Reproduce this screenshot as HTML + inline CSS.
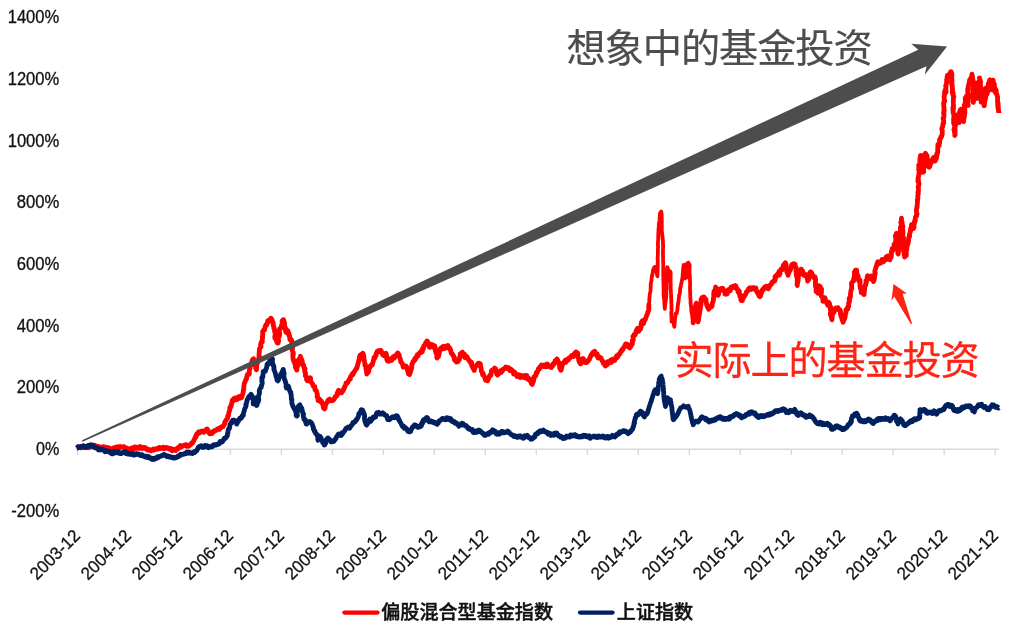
<!DOCTYPE html>
<html lang="zh-CN">
<head>
<meta charset="utf-8">
<title>基金投资</title>
<style>
html,body{margin:0;padding:0;background:#fff;}
body{width:1027px;height:634px;overflow:hidden;}
svg{display:block;}
</style>
</head>
<body>
<svg width="1027" height="634" viewBox="0 0 1027 634">
<rect width="1027" height="634" fill="#fff"/>
<g stroke="#d9d9d9" stroke-width="1.4" fill="none">
<path d="M77.4 449.2H999.2"/>
<path d="M77.4 449.2V455.1M128.4 449.2V455.1M179.4 449.2V455.1M230.4 449.2V455.1M281.4 449.2V455.1M332.4 449.2V455.1M383.3 449.2V455.1M434.3 449.2V455.1M485.3 449.2V455.1M536.3 449.2V455.1M587.3 449.2V455.1M638.3 449.2V455.1M689.3 449.2V455.1M740.3 449.2V455.1M791.3 449.2V455.1M842.2 449.2V455.1M893.2 449.2V455.1M944.2 449.2V455.1M995.2 449.2V455.1"/>
</g>
<g font-family="'Liberation Sans', sans-serif" font-size="17.6" fill="#111" stroke="#111" stroke-width="0.3" text-anchor="end">
<text x="59.3" y="516.5" textLength="48.0" lengthAdjust="spacingAndGlyphs">-200%</text>
<text x="59.3" y="454.9" textLength="23.3" lengthAdjust="spacingAndGlyphs">0%</text>
<text x="59.3" y="393.2" textLength="42.6" lengthAdjust="spacingAndGlyphs">200%</text>
<text x="59.3" y="331.5" textLength="42.6" lengthAdjust="spacingAndGlyphs">400%</text>
<text x="59.3" y="269.8" textLength="42.6" lengthAdjust="spacingAndGlyphs">600%</text>
<text x="59.3" y="208.1" textLength="42.6" lengthAdjust="spacingAndGlyphs">800%</text>
<text x="59.3" y="146.5" textLength="51.6" lengthAdjust="spacingAndGlyphs">1000%</text>
<text x="59.3" y="84.8" textLength="51.6" lengthAdjust="spacingAndGlyphs">1200%</text>
<text x="59.3" y="23.1" textLength="51.6" lengthAdjust="spacingAndGlyphs">1400%</text>
</g>
<g font-family="'Liberation Sans', sans-serif" font-size="17.6" fill="#111" stroke="#111" stroke-width="0.3" text-anchor="end">
<text transform="translate(81.1 536.8) rotate(-45)" textLength="62.3" lengthAdjust="spacingAndGlyphs">2003-12</text>
<text transform="translate(132.1 536.8) rotate(-45)" textLength="62.3" lengthAdjust="spacingAndGlyphs">2004-12</text>
<text transform="translate(183.1 536.8) rotate(-45)" textLength="62.3" lengthAdjust="spacingAndGlyphs">2005-12</text>
<text transform="translate(234.1 536.8) rotate(-45)" textLength="62.3" lengthAdjust="spacingAndGlyphs">2006-12</text>
<text transform="translate(285.1 536.8) rotate(-45)" textLength="62.3" lengthAdjust="spacingAndGlyphs">2007-12</text>
<text transform="translate(336.1 536.8) rotate(-45)" textLength="62.3" lengthAdjust="spacingAndGlyphs">2008-12</text>
<text transform="translate(387.1 536.8) rotate(-45)" textLength="62.3" lengthAdjust="spacingAndGlyphs">2009-12</text>
<text transform="translate(438.1 536.8) rotate(-45)" textLength="62.3" lengthAdjust="spacingAndGlyphs">2010-12</text>
<text transform="translate(489.1 536.8) rotate(-45)" textLength="62.3" lengthAdjust="spacingAndGlyphs">2011-12</text>
<text transform="translate(540.1 536.8) rotate(-45)" textLength="62.3" lengthAdjust="spacingAndGlyphs">2012-12</text>
<text transform="translate(591.1 536.8) rotate(-45)" textLength="62.3" lengthAdjust="spacingAndGlyphs">2013-12</text>
<text transform="translate(642.1 536.8) rotate(-45)" textLength="62.3" lengthAdjust="spacingAndGlyphs">2014-12</text>
<text transform="translate(693.1 536.8) rotate(-45)" textLength="62.3" lengthAdjust="spacingAndGlyphs">2015-12</text>
<text transform="translate(744.1 536.8) rotate(-45)" textLength="62.3" lengthAdjust="spacingAndGlyphs">2016-12</text>
<text transform="translate(795.1 536.8) rotate(-45)" textLength="62.3" lengthAdjust="spacingAndGlyphs">2017-12</text>
<text transform="translate(846.1 536.8) rotate(-45)" textLength="62.3" lengthAdjust="spacingAndGlyphs">2018-12</text>
<text transform="translate(897.1 536.8) rotate(-45)" textLength="62.3" lengthAdjust="spacingAndGlyphs">2019-12</text>
<text transform="translate(948.1 536.8) rotate(-45)" textLength="62.3" lengthAdjust="spacingAndGlyphs">2020-12</text>
<text transform="translate(999.1 536.8) rotate(-45)" textLength="62.3" lengthAdjust="spacingAndGlyphs">2021-12</text>
</g>
<g fill="none" stroke-linejoin="round" stroke-linecap="butt" stroke-width="4.8">
<path stroke="#ff0000" d="M77.1 447.9L77.3 447.5L77.6 447L77.8 447.1L78 447L78.3 447.3L78.6 447.2L78.8 447.4L79 447.5L79.3 447.1L79.5 447L79.8 447L80 446.7L80.2 446.8L80.5 447.1L80.8 446.8L81 447L81.3 447.7L81.5 447L81.8 447.2L82 447.8L82.3 446.9L82.5 446.4L82.8 446.7L83 447.5L83.2 447.1L83.5 446.2L83.7 446.5L84 446.3L84.2 446.6L84.5 446.9L84.7 446.7L85 446.8L85.2 447.1L85.5 447L85.7 447L86 446.4L86.2 446.6L86.5 447.4L86.7 447L87 447.6L87.2 447.4L87.5 447.2L87.8 447.2L88 447.2L88.2 447.2L88.5 447.2L88.8 447.1L89 447.8L89.2 447L89.5 446.8L89.8 447.3L90 446.3L90.3 447L90.5 446.6L90.8 446.2L91 445.9L91.2 445.8L91.5 445.9L91.8 445.7L92 446L92.2 445.1L92.5 445.7L92.8 444.9L93 445.7L93.2 446.1L93.5 446.1L93.8 446.5L94 446.3L94.2 445.9L94.5 445.6L94.7 445.7L95 445.2L95.2 446.2L95.4 446.3L95.7 445.9L95.9 446.1L96.1 446.4L96.4 447.2L96.6 447.5L96.9 447L97.1 447.1L97.3 446.5L97.6 446.6L97.8 446.5L98 446.8L98.3 446.6L98.5 447L98.8 447.1L99 447.1L99.3 447.5L99.5 447.7L99.8 447.8L100 447.9L100.3 447.9L100.5 447.4L100.7 447.9L101 447.5L101.2 447.7L101.5 446.9L101.7 447.1L102 447.7L102.2 447L102.5 447L102.7 447.3L102.9 447.1L103.2 446.8L103.4 447.2L103.7 447.2L103.9 447.4L104.2 446.9L104.4 447.4L104.7 447.5L104.9 447L105.2 447.5L105.4 447.6L105.6 447.7L105.9 448.2L106.2 448.2L106.4 447.8L106.6 447.5L106.9 448.1L107.1 447.7L107.4 447.5L107.6 447.9L107.9 447.8L108.1 448.1L108.4 448.7L108.6 448.5L108.9 448.6L109.1 448.3L109.4 448.1L109.6 448.4L109.9 449.3L110.1 449.6L110.4 449.3L110.6 449.8L110.9 449.5L111.1 449.6L111.3 449.4L111.5 449.6L111.8 449.7L112 449.4L112.3 448.5L112.7 449.3L112.9 449.3L113.1 449.4L113.3 448.9L113.5 447.9L113.7 448.1L114 447.7L114.3 447.6L114.5 447.6L114.8 447.5L115 447.8L115.3 447.8L115.5 447.4L115.8 447.3L116 447.6L116.3 448.3L116.5 448.4L116.8 448.1L117 447.8L117.2 448.5L117.5 447.2L117.7 446.7L118 447L118.2 447.4L118.5 447.3L118.7 447.9L119 447.3L119.2 447.9L119.4 446.9L119.7 447.1L119.9 447.4L120.2 446.5L120.4 446.6L120.7 446.8L120.9 446.8L121.2 447.1L121.4 447L121.7 447L121.9 446.9L122.2 447.1L122.4 447.2L122.7 447.3L122.9 447.2L123.2 447L123.4 446.8L123.7 447.3L123.9 446.7L124.2 446.8L124.4 447.4L124.6 447.9L124.9 447.7L125.1 448.2L125.4 447.8L125.6 448.6L125.9 449.2L126.1 448.9L126.3 448.3L126.6 448.5L126.8 448.1L127.1 448.2L127.3 448.9L127.6 448.4L127.8 448.5L128.1 448.9L128.3 449.2L128.6 449.1L128.8 449.2L129.1 449.1L129.4 449.3L129.6 449.2L129.8 449.5L130.1 449.8L130.4 449.7L130.6 449.8L130.8 449.6L131.1 449.1L131.3 449.2L131.6 448.6L131.8 448L132.1 448.8L132.3 448.8L132.6 449.3L132.9 449.5L133.1 448.6L133.3 448.8L133.6 449L133.8 448.1L134.1 447.4L134.3 446.9L134.6 447.6L134.8 447.5L135.1 447.5L135.3 447.7L135.6 448.3L135.8 447.5L136.1 447.1L136.3 448.1L136.6 447.6L136.8 447.6L137.1 448.2L137.3 447.8L137.6 447.8L137.8 447.6L138.1 447.6L138.3 447.6L138.6 448L138.8 447.9L139 448.2L139.3 447.6L139.5 447.3L139.8 447.7L140 446.5L140.3 446.6L140.5 446.8L140.7 446.8L141 447L141.2 447.1L141.5 447.4L141.7 448.1L142 448.6L142.2 447.6L142.4 447.6L142.7 448.1L142.9 447.7L143.2 447.3L143.4 447.3L143.7 447.3L143.9 447.5L144.1 447.4L144.4 447.4L144.6 447.6L144.9 447.7L145.1 447.5L145.4 447.9L145.6 448.7L145.8 448.8L146.1 449.1L146.4 449L146.6 448.9L146.8 448.8L147.1 449.4L147.3 450L147.5 449.4L147.8 449L148 449.4L148.3 449.7L148.5 450.1L148.7 449.9L149 449.6L149.3 449.9L149.5 450L149.7 450.2L150 449.7L150.2 450.5L150.4 450.4L150.7 450.8L150.9 450.9L151.2 450.2L151.4 450L151.7 450.1L151.9 450.1L152.2 450.2L152.4 449.9L152.7 449.6L152.9 449.3L153.2 449L153.4 449.8L153.7 450L153.9 450.1L154.2 449.8L154.4 449.7L154.7 449.2L154.9 449.5L155.2 449.6L155.4 449.5L155.7 449.4L155.9 449.3L156.2 448.8L156.4 448.8L156.6 448.8L156.9 448.6L157.1 448.8L157.4 448.9L157.6 448.6L157.8 448.3L158.1 448.6L158.3 449.1L158.6 448.7L158.8 448.3L159.1 448.5L159.3 448.5L159.5 447.4L159.8 448L160 448.4L160.3 448.1L160.5 448.6L160.8 448.1L161 448L161.2 447.9L161.5 447.9L161.7 448L162 447.9L162.2 447.7L162.5 448.1L162.7 448L162.9 448.4L163.2 447.2L163.4 447.7L163.7 447.6L163.9 448.2L164.2 448.6L164.4 448.4L164.6 448.4L164.9 448.5L165.1 447.9L165.4 448L165.6 447.9L165.9 447.7L166.1 447.4L166.3 447.5L166.6 447.8L166.8 447.7L167.1 448L167.3 448L167.6 448L167.8 448.2L168 447.9L168.3 447.9L168.5 448L168.8 448.2L169 448.3L169.3 449L169.5 448.7L169.7 449L170 448.8L170.2 449L170.5 448.9L170.7 448.8L171 448.6L171.2 449.7L171.4 450.4L171.7 450.2L171.9 449.7L172.2 450.7L172.4 450.2L172.7 450.5L172.9 450.1L173.1 449.3L173.4 449.6L173.6 449.9L173.9 449.9L174.1 449.8L174.4 449.8L174.6 449.5L174.9 449.4L175.1 449.2L175.4 449.4L175.6 450.4L175.9 450.5L176.1 449.5L176.4 449.1L176.6 449L176.9 449.1L177.1 448.9L177.4 448.7L177.6 447.9L177.9 448.8L178.1 448L178.4 447.7L178.6 447.6L178.9 447.5L179.1 447.2L179.4 446.9L179.6 446.5L179.9 446.1L180.1 445.9L180.3 445.6L180.6 446.6L180.8 446.1L181.1 446L181.3 447.1L181.6 446.6L181.8 446.7L182.1 446.3L182.3 445.8L182.6 446L182.8 445.7L183.1 445.5L183.3 445.4L183.6 445.4L183.8 445.3L184.1 445.5L184.3 445.3L184.5 445.3L184.8 445.2L185 445.1L185.3 445L185.5 444.8L185.8 445.3L186 445.1L186.2 445L186.5 445.6L186.7 446.2L187 446.1L187.2 445L187.5 445.2L187.7 445.5L187.9 445.9L188.2 445.6L188.4 446.3L188.7 445.6L188.9 446.1L189.2 445.8L189.4 445.7L189.6 445.3L189.8 445.4L190.1 444.7L190.4 444.4L190.7 444.7L191 444.5L191 444.3L191.3 443.7L191.4 443.2L191.7 443.4L191.9 443.4L192.4 442.6L192.8 442.9L193.1 441.9L193.3 441.5L193.6 441L193.6 441L193.7 440.7L194.1 439.7L194.3 439.3L194.5 439L194.8 438.7L195 437.6L195.1 437.8L195.4 436.6L195.8 436.4L195.9 437.2L196.1 436.5L196.2 435.1L196.6 433.9L197 433.9L197.5 434.2L197.7 433.8L197.6 433.7L197.9 433L198.1 432.2L198.6 431.9L198.8 431.8L199.1 432.5L199.3 432.4L199.5 432.5L199.8 432.8L200 432.7L200.3 431.8L200.5 431.6L200.8 431.6L201 431.6L201.3 431.2L201.5 431.3L201.8 431.3L202 431.1L202.3 431.6L202.5 431.5L202.8 431.4L203 431.5L203.2 432.2L203.5 432.3L203.8 432.3L204 431.6L204.2 432L204.5 431.3L204.7 430.8L205 430.9L205.2 430.5L205.5 430.2L205.7 430.1L205.9 430.2L206.2 429.5L206.5 429.2L206.7 429.1L207.1 429L207.3 429L207.5 429.7L207.8 430.5L207.8 430.6L208.2 430.7L208.5 431L208.7 432.8L208.9 432.8L209.2 432.8L209.4 433.3L209.6 433.8L209.9 433.9L210.1 433.7L210.4 433.4L210.6 432.8L210.8 432.9L211 432.8L211.2 433.5L211.5 432.8L211.8 432.7L211.9 433.5L212.2 433.5L212.4 433.2L212.7 432.4L213 431.8L213.2 431.3L213.4 431.5L213.6 431.8L213.8 431.4L214.1 431.3L214.4 431.3L214.7 430.8L214.9 430.4L215.1 430.6L215.4 430.5L215.6 430.4L215.9 430.4L216.1 430L216.4 430.3L216.6 429.7L216.8 430.1L217.1 429.2L217.3 429.5L217.6 429.1L217.8 429.5L218.1 429.1L218.3 428.6L218.5 428.9L218.8 428.9L219 429.1L219.3 429.3L219.5 429L219.7 429.3L220 427.8L220.3 428.2L220.5 428.1L220.8 427.9L221 427.8L221.3 427.1L221.5 426.9L221.7 427.1L222 427.1L222.3 426.8L222.6 426.4L223 426.3L223.2 426.5L223.4 425.8L223.6 425.5L223.9 424.7L224.2 424.8L224.4 424.6L224.6 423.9L224.7 422.2L225 423L225.1 421.7L225.4 421.4L225.7 420.6L225.9 420.8L226.2 420.1L226.5 419.5L226.9 419.1L227.3 418.8L227.7 417.3L227.7 416L227.9 415.6L228.2 415.9L228.5 415.6L228.4 415.2L228.6 413.9L228.7 413.1L228.9 412.9L229.1 412.2L229.1 412.1L229.3 411.1L229.8 410.1L229.8 408.4L229.9 407.3L230.4 407L230.6 406.8L230.6 406.5L231.1 406.6L231.2 404.3L231.5 404.8L231.5 403.9L231.7 403L232 401.8L232.3 401.5L232.5 400L232.4 400.3L232.7 400.5L233 401.3L233.5 399.7L233.7 398.8L233.8 399.1L234.2 398.6L234.5 398.5L234.7 398.3L234.9 398.4L235.2 398.4L235.4 398.5L235.7 398.1L235.9 398.8L236.1 398.5L236.4 399.7L236.6 399.5L236.8 399.6L237 399L237.3 398.5L237.5 399.3L237.7 398.7L238 398.5L238.2 397.9L238.5 396.8L238.8 396.6L239 397.1L239.2 396.7L239.4 397.2L239.7 397.6L239.9 398.2L240.2 397.5L240.4 396.9L240.6 397.5L240.9 397.2L241.1 397.9L241.3 397.5L241.7 397.5L242 396.4L242.1 396.8L242.1 395.8L242.5 394.4L242.7 394.5L242.9 393.7L243.1 392.8L243.2 391.7L243.3 390.8L243.4 389.9L243.8 389.3L243.8 388.5L243.8 387.4L243.9 386.1L244 385.3L244.1 384.8L244.2 384L244.4 383.1L245 382L245.4 380.9L245.8 379.7L245.8 379.2L246.4 378.5L246.6 378.8L246.7 377.4L246.7 376.7L247 376.1L247.1 376L247.1 375.5L247.3 374.9L247.5 374.4L247.7 375L248 374.7L248.2 374.3L248.5 374.1L248.7 373.7L249 373.8L249.2 374L249.3 374.1L249.4 373.1L249.4 372.7L249.1 372.5L249.2 371.2L249.3 370.5L249.5 369.7L249.8 368.7L250.2 367.7L250.2 366.1L250.5 365.9L250.9 365.7L251.2 364.4L251.4 363.8L251.4 363L252.1 361.6L252.3 361.6L252.1 360.3L252.1 360.5L252.5 360.3L253 359.3L253.5 358.7L253.7 359.4L253.8 359.4L253.8 359.9L253.9 360.9L254.2 360.2L254.7 361.3L255 362.7L255 363L255.1 363.1L255.8 363.8L255.8 364.1L255.6 367L255.7 368.3L256.1 368.7L256.4 369.3L256.5 369.8L256.5 368.6L256.4 368.4L256.5 368.4L256.6 367.4L256.7 365.7L256.9 364.3L257.3 362.8L257.3 362L257.5 361.9L257.8 362.4L257.6 361.3L258.2 360.4L258.2 360.4L258.5 359.3L258.8 358.9L259 357.6L259 357.1L258.9 357.3L259.3 356.5L259 355L259.2 352.9L259.2 352.1L259.3 351.9L259.2 352.3L259.4 352.1L259.3 350.6L259.4 349.7L259.5 348.8L259.9 348L260.1 347.9L260.5 347L261 346.9L260.9 345.9L260.6 344.7L260.8 345L260.8 343.8L261.2 342.5L261.5 342.4L261.9 342.2L262.3 342L261.9 340.9L262.2 340.8L262.4 338.5L262.6 337.4L262.4 336.6L262.5 335.9L262.8 335L262.8 334.1L262.7 333.4L262.6 331.9L262.8 331.2L263 330.8L263.4 330.6L263.8 329.9L264.4 329.7L264.6 329.9L264.8 328.4L265.1 327.1L265.2 326.4L265.5 326.5L265.7 326.1L265.8 324.9L266.1 325L266.6 324.9L266.8 325L267 323.9L267.3 323.6L267.3 323.1L267.5 322.1L267.8 320.6L268 322.5L268.6 321.6L268.9 321.1L269.2 321.2L269.2 320.3L269.5 320.4L269.7 319.8L269.9 319.4L270.1 320.2L270.3 320.2L270.6 319.2L270.8 318.1L271 318.7L271.2 318.3L271.4 319L271.7 319.3L272.1 319.6L272.3 320.3L272.5 321.6L272.6 322L272.8 322.3L273 322.3L273.2 323.4L273.3 323.7L273.2 324.4L273.2 324.9L273.3 325.5L273.7 326.1L273.8 326.9L273.7 328.2L274 328.1L274.6 329.6L274.6 330.8L274.6 331.4L274.8 332.1L275 332.2L275.2 332.8L275.4 333.4L275.1 334.9L274.9 336.8L274.8 337.1L274.9 337L275.1 338.6L275.4 338.9L275.7 339L276.1 339.6L276.5 340.2L276.7 341.9L276.7 341.9L276.9 341.8L277.3 342L277.4 343L278 343.1L278.1 343L278.3 342L278.6 341.2L278.4 338.7L278 339.1L278.2 338.1L278.6 336.6L279.2 336.6L279.3 335.9L279.4 335.2L279.7 334.6L279.7 334.1L279.6 332.9L279.4 332.7L279.4 331.5L279.5 329L279.9 329L280.4 328.5L281 327.2L281.3 327.4L281.3 327L281.2 326.4L281.4 325.8L281.7 325.5L282 324.3L282 323.8L282.3 323.9L282.2 322L282.1 321L282.6 322.2L282.6 320.7L283.2 319.7L283.2 320.1L283.2 320.6L283.7 319.9L283.7 320.4L284 321.7L284.4 322.3L284.5 323.3L284.5 323.8L284.4 324.3L284.5 325.4L284.6 324.8L284.6 326.2L285 326.9L285.5 328.4L285.1 329.7L285.3 330.4L285.5 330.6L285.7 331.4L286 332.3L286.2 331.3L286.4 329.3L286.7 330.6L286.9 331.9L287.1 332.9L287.4 331.8L287.6 330.9L287.9 330.8L287.9 331.1L288.2 331.6L288.7 333.6L288.8 335.4L289.1 333.7L289.1 335.1L289.6 335.8L289.6 336.3L289.6 336.8L289.8 338.1L289.8 339.3L290.3 340L290.9 339.1L291.2 339.5L291.4 339.6L291.6 340.5L291.6 340.9L291.8 341.4L292.3 342L291.9 343.3L292.2 343.2L291.6 344.4L292 346L291.9 345.5L292.4 347.3L292.6 348.3L292.2 347.5L292.1 348.7L292.3 350.7L292.6 351.5L292.7 351.8L292.9 352.4L293.2 352.4L293.3 353.1L293.3 354.8L292.8 354.5L292.8 355.8L292.9 356.7L293 357.7L293.1 359.2L293.6 359.9L293.6 361L293.7 361.3L293.9 361.5L294.2 360.8L294.1 360.9L294.4 361.1L294.6 362.9L294.9 363.8L295 364.6L295.3 364.9L295.4 367.1L296 368.3L296.5 368.6L296.4 369.5L296.8 369.1L296.9 370.1L296.9 369.4L296.9 368.5L296.7 368.5L296.9 367.9L297.2 367.1L297.1 366.8L297.8 365.8L298.3 365.5L298.2 365L298.3 364L298.1 361.9L298.3 360.7L298.4 360.1L298.7 359.5L298.9 359.9L299.2 360.1L299.3 359.2L299.7 360.3L299.9 358.4L300 358L300.2 357.3L300.4 356.3L300.7 357.6L300.8 359.1L301.2 359.5L301.4 359.9L301.4 358.7L302 360.6L302.2 361L302.3 361.6L302.3 362.3L302.2 362.3L302.6 363.5L302.6 363.4L302.9 364.6L303.5 364.9L303.8 366.1L303.7 366.8L303.8 366.8L304.2 368L304.6 369.1L305 368.6L304.7 371.2L304.9 372.2L305.1 372.2L305.5 372.7L305.5 373.5L305.5 374.2L305.5 374.8L305.3 375.8L305.6 375.9L306.1 376.4L306.8 377.4L307.2 378.7L306.5 379.2L306.6 379.4L307.1 380.5L307.3 380.3L307.5 379.4L307.8 380.6L308 380.8L308.2 379.7L308.3 379.4L308.5 378.4L308.8 378.6L309.1 378.8L309.4 378.4L309.7 378.1L310 378.3L310.2 377.8L310.4 377.9L310.7 379L310.5 379.4L310.6 380.8L310.9 381.3L311.1 381.9L311.4 382.5L311.9 383.2L312.1 383.5L312.5 383.7L312.7 384.1L312.9 385.4L313.2 385.9L313.7 386.2L314.1 386.4L314.7 386.7L314.9 386.7L314.7 388.2L314.9 388.5L315 389.7L315.2 389.8L315.5 390.1L315.7 390.4L316.2 390.6L316.2 390.8L316.2 390.8L316.6 391.4L316.9 392.7L317 393.2L317.3 394L317.4 394.5L317.2 395.1L317.3 395.6L317.1 396.8L317.9 397.4L318 398.8L318 399.1L318.1 400.5L318.3 400.3L318.6 399.7L318.8 400.3L319 399.6L319.1 400L319.5 399.2L319.6 399.1L319.9 399.4L320 400.4L320.4 401.5L320.7 401.5L320.9 401.8L321.3 401.5L321.6 401.3L321.6 402.1L321.7 402.5L322.1 403.2L322.3 403.2L322.7 404.6L322.9 405L323.3 405.7L323.2 406.4L323.3 407.3L323.5 407.7L323.7 408.1L324.1 408.4L324.5 408.9L324.9 408.3L325.1 408.2L325.3 406.5L325.3 405.7L325.4 405.8L325.6 404.7L325.6 404.1L326 403.6L326.3 403.3L326.7 402.8L326.9 402.3L327.3 401.8L327.6 401.1L327.9 400.3L328.3 400.9L328.6 400.8L328.7 400.4L328.9 400.1L329.1 399.8L329.1 399.5L329.3 399.4L329.6 399.1L329.8 399.8L330.1 400.9L330.3 400.6L330.6 400.2L330.8 400.9L331 400.7L331.3 400.8L331.5 400.8L331.8 400L332 400.4L332.3 400.5L332.6 400.5L332.7 400.4L333 400.2L333.2 400.3L333.3 400.1L333.7 400L333.9 399.6L334.1 399.2L334.5 398.6L334.6 398.2L335 397.6L335.2 396.7L335.5 396.3L335.7 396.3L336 396.3L336.3 396.1L336.6 396.1L336.9 395.8L337.1 395L337.3 394.3L337.2 393L337.5 393.1L337.8 392.4L338 391.6L338.3 391L338.6 390.2L338.9 390.9L339.1 391.1L339.4 391.5L339.6 391.9L339.9 392.7L340.1 392.2L340.3 392.2L340.6 392.8L340.7 392.9L340.9 392.8L341.1 392.7L341.3 392.4L341.5 392.7L341.8 392.6L342 391.9L342.2 391.9L342.6 390.5L342.9 391L343.3 390.6L343.4 389.3L343.7 389.2L343.9 389L344.1 388L344.3 387.9L344.6 387.5L344.8 386.3L345 386.1L345.2 385.8L345.5 385L345.7 384.3L346 382.9L346.2 382.9L346.7 383.1L346.9 383.3L347.1 383.2L347.3 382.8L347.6 382.4L347.9 381.7L348 382.3L348.3 381L348.8 380.4L349 379.7L349 379.9L349.1 379.8L349.8 379.4L349.8 379L350.4 379L350.3 377.1L350.5 376.7L350.7 376.4L351 376.4L351.2 376L351.5 375.7L351.8 374.9L352 374.6L352.3 373.7L352.6 374.2L352.9 374.5L353.2 374.1L353.4 373.6L353.6 372.6L353.8 372.2L353.9 372.4L353.9 372.5L354.3 371.7L354.5 371.6L354.8 370.8L354.9 370.8L355.1 370.3L355.2 370.1L355.5 369.8L356 369.3L356.3 368.2L356.8 368.6L356.9 368.6L356.9 367.9L357.5 365.8L357.6 365L357.8 364.3L358 363.6L358.2 362.9L358.4 362.3L358.4 362.3L358.6 362L358.6 361L358.9 360.7L359 359.3L359.6 357.1L359.5 356.6L360 355.5L360.2 355.2L360.7 355.1L360.9 354.7L361.1 354.5L361.4 354.8L361.6 354.2L361.9 355.3L362 355.4L362.2 354.3L362.5 353.8L362.8 353.2L362.9 354.3L363.1 354.6L363.4 354.5L363.5 354.8L363.6 354.9L363.5 355.4L363.8 356.4L363.9 357.7L363.6 359.8L364.2 359.9L364.4 360.3L364.5 361.3L364.7 362.6L364.8 363.4L364.8 363.7L365.1 363.8L364.9 365.3L365.3 364.9L365.8 366.1L365.8 367L366 367.4L365.9 368.7L366.3 370.1L366.7 372.8L366.8 372.8L366.9 372.9L366.7 373.4L366.7 374.1L367.1 373.6L367.6 372.6L368 372.8L368.3 371.7L368.3 370.1L368.8 370L368.9 371L368.9 370L369 369.9L369.3 368.2L369.4 368L369.6 367.3L370 367.2L370.1 367.3L370.4 366.7L370.3 365.9L370.7 365.7L370.9 365.4L371.1 365.4L371.4 364.9L371.6 364.5L371.8 364.4L372 364.9L372.3 364.7L372.7 363.5L372.9 362.6L372.9 362.3L373.1 361.8L373.3 361.2L373.4 360.6L373.7 359.3L374.1 359L374 357.5L374.1 357.4L374.3 357.8L374.7 358.2L375.4 356.4L376.1 355.4L376 354L376.3 353.6L376.4 353.2L376.7 353.3L376.9 351.7L377.1 352.2L377.4 351.5L377.5 351.8L377.8 351.5L378.1 350.6L378.3 350.6L378.5 351.1L378.8 351.3L379 351.4L379.3 351L379.5 351L379.7 351.4L380 350.5L380.2 351.2L380.4 350.8L380.7 350.7L380.9 350.5L381 350.5L381.1 350.9L381.6 351.9L381.7 353L381.9 352.6L382 352.7L382.3 354.1L382.7 354.8L383.1 355L383.3 355.2L383.5 355.4L383.8 354.8L384 354.3L384.3 354.5L384.5 354.9L384.7 355.2L385 353.6L385.2 353.5L385.4 353.5L385.7 353.3L385.9 353.2L386.2 353.7L386.4 355.2L386.8 356.3L386.8 355.7L386.8 356.1L386.8 357L386.7 357.8L386.6 358.6L386.9 359.7L387.5 361L387.7 360.9L388 360.6L388.2 360.3L388.5 360.2L388.7 360.7L389 361.2L389.2 360.2L389.5 360.1L389.7 360.9L390 360.9L390.2 360.4L390.5 359.8L390.8 359L391 358.5L391.2 358.5L391.6 360.3L391.8 360L392 359.7L392.2 359.4L392.5 358.8L392.7 359.1L392.9 357.7L393.1 357.1L393.2 356.8L393.5 357.5L393.7 357L394 356.7L394.2 357.4L394.5 357.9L394.8 356.3L395 356.8L395.2 356L395.5 355.4L395.7 355.3L396 355.2L396.3 355.5L396.5 354.8L396.7 354.3L397 354.9L397.2 354.5L397.5 353.9L397.7 352.9L398 353.3L398.2 353.5L398.5 353.9L398.7 354.2L399 354.6L399.2 355.1L399.2 355.5L399.2 356.1L399.6 357L400 358.5L400.2 359L400.5 359.9L400.6 360.7L400.7 361.7L400.9 361.3L401.1 362L401.8 362.9L402.5 364L402.4 364.1L402.9 365.3L402.9 365.8L403.1 366.4L403.2 367.2L403.4 366.5L403.6 366.8L403.8 366.6L404.1 366.3L404.4 366.3L404.7 366.3L404.9 366.6L405.2 366L405.4 365.9L405.7 365.8L406.1 366.2L406.4 366.7L406.6 367.4L406.7 368.1L407 367.3L407.1 367.8L407.4 368.2L407.4 369.2L407.7 370L407.3 369.6L407.5 369.9L407.9 371.5L408.3 373.8L408.7 372.9L409.1 374.1L409.5 374.6L409.8 374.1L409.8 373.1L409.7 372.4L410.2 372.7L410.7 371.1L411.2 369.7L411.3 369.1L411.4 368.1L411.7 367.5L411.9 367L411.8 366.2L411.7 364.8L412.1 364.4L412.3 363.6L412.6 363.1L412.8 361.9L413.1 361.9L413.3 361.5L413.7 360.8L413.9 361L414.2 360.6L414.4 360.1L414.6 360.5L414.5 360.2L414.7 358.7L415 358.9L415.2 358.6L415.5 358.8L415.7 358.8L415.9 357.4L416.2 357.6L416.4 357.6L416.6 357.1L417 355.7L417.3 354.8L417.5 355.8L417.8 356.3L418 355.6L418.3 354.9L418.4 354.5L418.6 354.3L418.9 354.2L419.1 353.5L419.4 353.5L419.6 352.6L419.9 352.9L420.2 352.4L420.4 352.6L420.6 352.1L420.9 352.5L421.1 351.2L421.3 351.6L421.5 350.9L421.7 351L422 351.2L422.1 351.4L422.3 351.7L422.4 350.4L422.5 350.5L422.5 348.4L423.1 349.6L423.6 348.1L423.8 346.4L423.8 345.8L424.5 345.6L424.7 345.1L424.9 344.6L425.2 344L425.3 343.9L425.5 343.6L425.7 342.8L426.1 342.4L426.4 342.5L426.7 341.2L426.9 341L427.1 341.9L427.3 341.1L427.4 341.4L427.8 341.9L427.7 342.6L428.1 342.9L428.6 342.9L428.8 344.4L429.2 344.8L429.2 347L429.6 346.8L429.6 347.4L429.9 346.9L430.1 347.1L430.2 346.8L430.5 345.7L430.7 345.9L431 345.3L431.2 345.7L431.5 344.5L431.8 344.5L432.2 344.6L432.4 345.3L432.7 345.4L433 345.8L433.2 347.1L433.4 347L433.7 345.8L433.9 345.7L434.2 345.6L434.4 345.6L434.7 345.7L434.7 346.2L435.1 347.3L434.9 348.7L435 349.3L435.3 350.5L435.6 351.6L435.9 352.4L436.2 352.8L435.9 352.7L436.3 353.4L436.8 354.2L436.8 355.9L436.8 356.5L436.7 356.7L436.9 357.6L437.1 358.1L437.4 357.4L437.5 357.6L437.5 357.1L437.6 356.9L438.5 356.6L438.7 355.1L439 354.4L439.3 353.1L439.4 351.4L439.4 351.4L439.5 350.6L439.6 349.5L439.8 349.9L440 350.2L440.3 350.3L440.5 350.3L440.8 349.7L441 347.8L441.2 348.8L441.5 349.4L441.8 348.3L441.9 347.3L442.2 348.1L442.4 347.4L442.6 347.1L442.9 347L443.1 346.9L443.4 346.2L443.6 346.9L443.8 347.2L444.1 347.3L444.3 348.6L444.6 347.1L444.8 346.6L445 346.9L445.3 348.2L445.5 347.6L445.7 347.2L446 347L446.2 347.4L446.5 347.3L446.7 347.4L446.9 346L447.2 346.8L447.4 345.9L447.6 345.4L447.9 345.4L448.1 347.5L448.3 348.1L448.6 347.5L448.8 348.1L449.1 347.9L449.3 347.3L449.5 347.8L449.7 348.2L449.9 349.3L450.1 349.6L450.5 349.4L450.5 350.5L450.7 351.2L451 351.4L451 352.6L451.5 353.6L451.8 354L452.1 354.1L452.4 354L452.7 354.5L452.8 354.4L453 355.5L453.2 356L453.3 356L453.9 356.2L454.2 357.6L454.3 359.5L454.5 360.2L454.7 359.6L455 359.1L455.3 359.9L455.6 359.9L455.8 360.6L456.1 361L456.4 362L456.7 361.7L456.8 361.4L457.1 359.8L457.3 360.5L457.5 361.1L458 361.6L458.3 361L458.7 359.7L459.2 359.7L459.5 359.2L459.6 357.5L459.6 357.6L460.1 355.4L460.2 355.1L460.2 354.7L460.2 353.9L460.3 353.9L460.5 354.4L460.7 354.1L461 353.9L461.3 353L461.6 353L461.8 352.8L462 353.1L462.2 353L462.4 352.2L462.8 352.8L462.8 353L462.8 354.4L463.6 354.9L464.1 354.1L464.5 354.2L464.5 356L464.4 357.2L464.7 357.4L464.9 357.2L465.2 357.6L465.4 356.9L465.6 357.6L465.9 357.3L466.1 356.9L466.4 357.3L466.7 357.3L466.8 356.5L467 356.7L467.1 357.6L467.3 357.9L467.7 358L467.8 358.1L468.1 359.2L468.4 359.7L468.7 360L469.1 360.2L469.4 360.4L469.5 360.8L469.8 361.7L470.2 362.2L470.6 362.7L471.1 362.4L471.4 362.2L471.6 362.9L471.6 364.8L471.7 365.9L472 365.9L472.4 366.4L472.7 367L472.8 368.1L473.3 368.1L473.5 368L473.7 368L473.8 368.6L474.2 369.4L474.3 369.9L474.2 370.5L474.3 370.2L474.4 369.3L474.5 368.9L474.7 368.6L474.9 367.3L475.2 367.2L475.7 366.7L476 365.9L476.5 365.8L476.8 364.8L477.1 364.9L477.3 365L477.6 364.7L477.8 365L478.1 363.4L478.3 363.2L478.6 363.2L478.8 363.2L479.1 363.4L479.3 363.6L479.5 364.3L480.2 363.7L480.4 364.1L480.5 365.9L480.7 367.1L481 367.6L481.3 370.2L481.3 371.1L481.7 371.5L481.9 371.8L482 372.4L482.3 372.2L482.7 373.6L482.6 374.8L483 373.5L483.1 373.5L483.4 374.2L483.6 375.2L483.8 375.8L484.2 376.3L484.5 376.7L484.7 377.6L484.9 377.9L485.1 378.8L485.3 379.9L485.6 379.5L485.9 380.3L486.1 379.1L486.3 378.9L486.7 380.1L486.9 380.2L487.1 380.2L487.4 380.4L487.6 380.7L487.7 379.9L487.9 379.5L488.1 379.7L488.4 378.8L488.8 377.6L489.2 376.6L489.4 376.8L489.7 375.4L489.9 375.6L490 375.7L490.4 374.9L490.9 375.3L491 374.3L491.3 372.7L491.5 371.5L491.5 370.5L491.6 370.4L491.9 370.6L492.4 370.5L492.6 370.2L492.8 370.1L493.1 369.8L493.3 370.1L493.6 369.3L493.8 369.5L494.1 368.6L494.3 368.5L494.6 368.1L494.8 369.1L495.1 368.9L495.3 368.8L495.5 368.6L495.7 369.9L496.1 370.7L496.2 370.9L496 370.9L496 371.1L496.5 372.8L496.7 374.2L497.1 373.9L497.6 375L497.7 374.1L497.9 373.6L498.4 374.2L498.5 373.1L498.6 372.9L499 373.2L499.3 372.1L499.5 371.8L499.8 371.5L500 371.2L500.3 370.8L500.5 371.2L500.8 371.6L501 371.8L501.2 372.5L501.5 371.7L501.7 371.4L501.9 371.6L502.1 371.3L502.4 370.5L502.6 370.2L502.8 369.3L503.1 369.2L503.3 369.2L503.6 369.5L503.8 369.1L504.1 368.7L504.3 368.5L504.5 368.8L504.8 368.1L505 368.1L505.3 367.9L505.5 368.1L505.8 367L506 367.2L506.2 367.2L506.5 367.6L506.7 367.5L507 367.7L507.2 368L507.5 368.5L507.7 368.1L507.9 367.9L508.2 367.8L508.4 368.4L508.7 367.8L508.9 368.5L509.2 368.1L509.4 368.6L509.7 369L509.9 370.6L510.1 369.9L510.4 369.2L510.7 369.5L510.9 369.1L511.1 369.8L511.4 369.9L511.6 370.2L511.9 370.2L512.2 370.7L512.4 370.6L512.7 371.2L512.8 371.8L513.1 371.9L513.3 372.7L513.6 374L513.8 373.5L514.1 372.5L514.3 372.7L514.6 372L514.7 372.4L515 374L515.3 373.5L515.5 373.7L515.8 373.8L516 373.8L516.3 374.5L516.5 375.2L516.8 375.3L517 376.6L517.2 375.7L517.5 376L517.8 375.5L518.1 375L518.3 375.2L518.6 375.2L518.8 374.7L518.9 376.4L519.2 376.2L519.4 376.5L519.6 376.7L519.9 377.1L520.1 377.4L520.3 376.5L520.6 375.7L520.8 375.3L521 376.9L521.3 376.5L521.5 375.7L521.8 376.1L522 376.2L522.2 376.9L522.5 377.1L522.7 377.2L522.9 376.6L523.2 376.4L523.4 376.4L523.7 376.9L523.9 376.5L524.1 375.9L524.4 375.5L524.6 375.7L524.8 377.8L525.1 376.2L525.3 376.3L525.5 377L525.8 376.1L526 375.6L526.3 375.5L526.5 375.4L526.8 375.4L527.1 377L527.2 376.4L527.3 377.6L527.4 377.8L527.7 379.3L528 378.6L528.3 378.4L528.7 378.2L529 378.9L529.1 379.1L529.5 379.8L529.8 380.2L530.1 379.9L530.1 380L530.3 381L530.6 381.3L530.8 381.6L530.9 382.5L531.3 382.7L531.5 383.7L532.2 384.4L532.4 384.2L532.7 383.1L533.3 381.8L533.3 381.8L533.5 380.7L533.8 379.6L533.3 378.4L533.9 378.9L533.9 377.1L534.2 377.4L534.6 377.1L534.8 376.3L535.1 376L535.6 375.8L535.9 375.6L535.9 374.2L536.2 373.9L536.3 372.4L536.5 372.3L536.7 372.7L536.9 372.2L536.9 373L537.2 372.7L537.5 371.6L537.8 370.6L538.1 369.8L538.3 369.7L538.3 369L538.6 369.6L538.7 368.9L539.2 367.9L539.7 368.8L539.8 368L539.9 367.1L540.3 367.8L540.3 366.3L540.5 366.2L540.8 365.9L541.1 365.6L541.4 365.1L541.6 365.5L541.9 365.7L542.1 365.9L542.3 365.3L542.6 365.5L542.8 365.8L543 365.4L543.3 365.3L543.5 365.7L543.8 366.1L544 366.4L544.2 365.2L544.5 365L544.7 365.5L544.9 365.2L545.2 365.6L545.4 366.5L545.7 365.4L545.9 365.2L546.1 365.5L546.4 366L546.6 366.9L546.9 365.5L547.1 363.8L547.3 364.9L547.6 364.2L547.8 365.1L548.1 365.8L548.3 365.6L548.6 365.5L548.8 365.4L549 366.3L549.3 366.4L549.5 365.8L549.8 366L550 366.2L550.2 366.5L550.4 366.5L550.7 367.2L550.9 366.5L551.2 367.1L551.4 367.5L551.5 367.1L551.8 366.5L552 365.7L552.1 365.2L552.5 366.2L552.7 365.7L552.9 364.4L553.4 365L553.5 363.4L553.8 363.9L553.9 363.1L554 363.6L554.4 363.6L554.7 363.2L554.8 362.4L555 362.3L555 361L555.2 361.4L555.4 360.6L555.9 361.6L556.4 360.9L556.6 360.1L556.9 358.9L557.2 359.2L557.4 360.2L557.4 360.5L557.7 360.3L558 361.5L558.3 362.3L558.5 362.5L558.9 362.5L559.1 363.5L559.2 363.9L559.4 364.5L559.5 365.8L559.8 367.5L559.7 367.9L560.2 369L560.4 369.4L561.2 368.9L561.3 370L560.8 370.2L561 369.8L561.2 368.7L561.5 367.6L561.7 366.7L561.9 367L561.7 366.7L562.2 365.3L562.4 364.7L562.8 364.2L563.2 363L563.7 362.8L564 362.1L564.3 361.7L564.5 361.8L564.7 361.4L565 361.1L565.2 360.1L565.4 360.9L565.7 361.9L565.9 362.3L566.1 361.2L566.3 361L566.6 359.7L566.8 360L567.1 360.3L567.3 359.7L567.5 360.1L567.8 360.3L568.1 359.9L568.4 360L568.6 359.7L568.8 358.1L569 358.9L569.3 358.1L569.5 358.1L569.7 358L569.9 357.5L570.2 357.9L570.4 357.5L570.7 357L570.9 357L571.2 356L571.4 355.7L571.6 355.8L571.8 355.8L572 356.2L572.3 356.2L572.5 355.2L572.8 355.9L573 355.6L573.3 355.6L573.5 356.6L573.7 355.4L574 354.9L574.2 353.9L574.4 353.6L574.7 354.2L574.9 354L575.2 353.9L575.4 354.1L575.7 353.4L575.9 351.8L576.1 351.8L576.4 352.1L576.6 352.1L576.8 352.8L577 352.6L577.2 353.1L577.5 353.9L577.6 354L577.8 353.2L577.9 354.5L577.8 356.1L578.2 357.9L578.7 358.3L578.6 358.3L578.9 359L578.7 360L578.8 360.7L579.1 361L579.2 361.8L579.7 362.8L580.3 363.5L580.6 364L580.7 364L581 362.8L581.1 362.1L581.2 361.8L581.2 361.1L581.7 359.8L582.1 359.9L582.6 359.8L583.1 359.6L583 358.4L583.3 358.6L583.5 359.3L583.9 359.6L583.9 360.3L584 361.3L584.3 362L584.7 362.3L585.1 361.9L585.4 361.9L585.6 362.2L585.8 362.2L586 361.8L586.3 362.2L586.5 362.6L586.7 362.3L587 362L587.2 361.5L587.4 361.2L587.7 361.1L587.9 361.5L588.2 360.7L588.4 360.4L588.6 359.9L588.8 359.8L589.1 359.8L589.5 359.2L589.5 358.9L589.5 358.6L589.8 357.7L590.1 357.6L590.4 356.5L590.7 356.5L591 355L591.3 354.7L591.6 354.7L591.8 354.3L592.2 353.3L592.5 354.5L592.8 354.3L592.9 353.3L593.1 352.8L593.3 351.9L593.6 352L593.8 351.7L594 352.6L594.3 352.1L594.5 352.2L594.7 351.9L594.9 351.2L595.1 353.3L595.4 352.8L595.8 353.2L596.1 353.7L596.3 354.4L596.5 355.2L596.7 355.1L597 354.7L597.2 353.9L597.4 355.6L597.7 357.3L597.9 357.8L598.2 358L598.5 357.8L598.8 358L599.1 357.9L599.4 357.4L599.6 357.1L599.9 357.2L600.1 358.3L600.3 358.3L600.4 357.7L600.5 358.4L601 357.9L601.1 358.1L601.4 359.4L601.8 360.1L602.1 360.5L602.2 360.2L602.5 360.7L602.7 361.8L602.9 362.2L603.1 363L603.3 362.8L603.6 363.2L603.8 363.2L604 363.2L604.2 362.5L604.4 364.7L604.7 363.9L604.9 363.8L605.3 364L605.5 366L605.7 365.5L605.9 365L606.2 364.9L606.4 364.6L606.6 364.5L606.9 364.2L607.2 364.2L607.4 364.5L607.5 361.7L607.6 361.7L607.9 362.1L608.1 362.6L608.5 361.8L608.7 362.5L609 363.1L609.2 362.4L609.3 362.3L609.7 361.9L609.9 361L610.2 360.6L610.4 360.3L610.7 360.4L610.9 360.2L611.1 360.9L611.4 361.9L611.6 362.3L611.9 361L612.1 361.1L612.4 360.4L612.6 359.3L612.8 360.1L613.1 359.9L613.3 360.7L613.6 360.4L613.8 360.4L614 360.3L614.3 360.3L614.5 360.4L614.7 360.4L614.9 359.5L615.3 358.9L615.6 358.7L615.8 357.1L616.1 357.8L616.3 358.2L616.6 356.6L616.8 355.7L616.9 357.2L617.3 357.6L617.4 357.1L617.7 356.8L617.9 356.4L618.1 355.9L618.4 355.5L618.5 354.4L618.6 354.9L618.8 354.9L619 354.3L619.4 353.8L619.6 353.7L620 353.6L620.2 353.2L620.5 351.9L620.7 351.3L621 351.1L621.2 351.4L621.5 351.1L621.7 351.1L621.8 350.7L622 349.8L622.2 349.2L622.8 349.4L623.1 349.4L623.1 348.3L623.3 348.2L623.6 348.1L623.7 347.7L624.1 346.8L624.5 346.6L624.6 346.4L624.8 345.9L625.1 344.9L625.3 345.1L625.6 343.9L625.9 344.8L626.1 345L626.3 344.9L626.6 345.2L626.8 344.3L627.1 344.8L627.3 344.7L627.5 344.2L627.8 344.7L628.1 344.7L628.2 346.8L628.3 346.9L628.5 347L628.8 347.4L629.2 347.6L629.4 347.5L629.8 347.9L630.1 347.6L630.5 347.1L630.6 346.1L630.9 345.4L630.9 345.3L631.2 345.2L631.5 345.1L631.8 344.8L632 344.1L632.2 344.3L632.4 343.2L632.4 341.6L632.3 340.3L632.4 340.7L632.8 340.1L633.2 340.3L633.2 338.2L633.1 337.2L632.9 336.6L633 336.8L633.3 336.2L634 335.9L634 334.7L634.2 334.6L634.5 334.2L634.8 334.3L635.2 334.8L635.5 334.2L635.5 333.2L636 332.8L636 331.3L636.3 331.1L636.4 330.2L636.7 330L636.9 329.6L637.2 330.4L637.4 328.4L637.7 330L637.9 330.4L638.2 330.1L638.4 331.1L638.7 330.8L638.8 331.3L639.1 330.8L639.4 330.2L640.1 329.2L640.5 329.2L640.7 327.5L640.6 327.5L640.7 326.9L641.2 327.1L641 324.8L641.2 323.7L641.5 322.8L641.4 322.4L641.6 322L641.9 321.9L642.1 321.1L642.4 320.7L642.7 320.7L642.9 322.4L643.1 321.3L643.4 322.2L643.6 323.5L643.6 323.7L643.7 323L643.9 322.3L644 321.2L644.2 320.6L644.8 319.9L644.8 319.4L645.2 319.7L645.9 317.9L646 317.1L646.3 316.3L646.6 315.8L646.8 314.9L647.1 314.7L647.4 314.1L647.6 313L647.7 312.4L648 311.8L648.3 311.3L648.5 310.5L648.7 309.9L648.8 309.1L648.8 308L648.8 307.5L648.8 306.8L648.8 306.1L648.9 305.1L648.9 304.4L649 303.7"/>
<path stroke="#ff0000" stroke-width="3.8" d="M648 311.8L648.3 311.3L648.5 310.5L648.7 309.9L648.8 309.1L648.8 308L648.8 307.5L648.8 306.8L648.8 306.1L648.9 305.1L648.9 304.4L649 303.7L649.2 303.1L649.2 302.4L649.3 301.3L649.3 300.6L649.3 299.8L649.3 299.2L649.4 298.8L649.4 298L649.5 297.3L649.6 296.6L649.7 295.9L649.7 295L649.8 294.1L649.9 293.3L650.1 292.3L650.2 292.1L650.4 291.4L650.5 291L650.6 290L650.6 289.2L650.6 288.7L650.7 288L650.7 286.9L650.7 285.9L650.7 285.4L650.8 285L650.7 284.5L650.9 283.7L650.9 283.1L651 281.9L651.2 282L651.4 281.3L651.5 280.1L651.5 279.4L651.6 278.5L651.8 277.5L651.8 276.5L652 275.9L652.2 275.5L652.2 274.7L652.4 273.8L652.7 273.2L652.8 272.3L652.9 272L653 271.1L653 270.3L653.3 270L653.5 269.3L653.8 268.6L654 268L654.2 267.8L654.4 267.3L654.6 267.3L654.8 266.9L655.1 267L655.3 267.6L655.5 267.4L655.8 267.2L656 267L656.2 266.9L656.3 268L656.4 268.5L656.4 269.7L656.4 270.8L656.5 271.4L656.6 271.9L656.7 272.5L656.8 273L656.9 274.1L657.1 274.7L657.2 275.6L657.5 276.2L657.5 275.4L657.5 274.4L657.5 273.5L657.5 272.7L657.6 272L657.6 270.8L657.6 270.8L657.6 269.9L657.6 268.9L657.7 268.7L657.7 267.6L657.8 266.4L657.8 265.5L657.8 265.4L657.7 264.5L657.7 263.6L657.7 262.7L657.8 261.9L657.7 260.8L657.7 260.4L657.7 259.7L657.6 258.5L657.6 258.3L657.7 257.4L657.7 256.9L657.8 256.7L657.8 255.5L657.9 254.5L657.9 253.8L657.9 253L657.9 252L657.9 251.4L657.9 250.9L657.9 250.2L657.9 249.4L658 248.1L658.1 247.4L658 246.5L658 245.1L658 244.8L657.9 244.6L657.9 243.9L657.9 243.4L658 242.4L658 241.6L658.1 240.6L658.2 239.8L658.2 239L658.2 238.3L658.2 237.3L658.3 236.8L658.2 236.1L658.3 235.5L658.3 234.2L658.3 233.4L658.4 232.7L658.4 231.7L658.5 231.5L658.5 230.4L658.5 229.7L658.6 228.4L658.6 228.1L658.8 227.3L658.8 226.7L658.8 225.8L658.8 225.1L658.9 224.1L659 223.4L659.1 222.6L659.3 221.8L659.4 221.1L659.5 220.4L659.6 219.4L659.6 218.5L659.7 217.5L659.8 216.5L659.9 216.2L659.9 215.7L659.8 214.9L660 214.2L660 213.1L660.2 213.2L660.4 212.6L660.6 212.3L660.8 212.1L661.2 211.5L661.3 212.5L661.5 212.8L661.5 213.5L661.6 214.5L661.7 215.5L661.7 216.1L661.7 216.8L661.7 217.9L661.7 219.1L661.7 219.9L661.8 220.2L661.8 221.1L661.8 221.8L661.8 222.5L661.7 223.8L661.8 225L661.8 225.2L661.8 225.9L661.9 226.5L661.8 226.9L661.8 227.7L661.8 228.3L661.8 229.1L661.8 230.1L661.8 231L661.9 231.5L662 232.2L662.1 233.4L662.2 234.5L662.3 235.7L662.4 236.2L662.4 236.4L662.6 236.7L662.6 237.9L662.7 238.8L662.8 239.8L663 240.2L662.9 240.9L662.9 241.9L662.9 242.8L662.9 243.7L663 244.1L663.1 245L663.1 245.8L663.1 246.5L663.1 247.5L663 248.1L663 248.4L663.1 249.2L662.9 250.5L662.9 251.3L663 252.2L663 253.2L662.9 253.7L662.9 254.2L663 255.4L663 256.5L663.1 257.4L663.2 257.5L663.1 258.2L663 258.9L663.1 260L663.2 260.5L663.1 261.4L663.2 262.2L663.2 262.7L663.2 263.3L663.2 264.3L663.2 265.1L663.3 266.1L663.3 266.8L663.3 267.2L663.3 268.1L663.2 269.1L663.2 269.7L663.2 270.5L663.3 270.9L663.2 271.6L663.3 272.5L663.3 273.1L663.3 274.1L663.2 275.2L663.3 276.2L663.4 277L663.3 277.4L663.3 278.3L663.3 279L663.3 280.2L663.4 281.2L663.4 282L663.5 282.6L663.5 283.8L663.5 284.6L663.6 284.8L663.5 285.3L663.5 286.3L663.6 287.2L663.5 287.5L663.7 288.3L663.6 289.4L663.6 290.2L663.6 291L663.6 291.8L663.6 292.5L663.6 293.3L663.6 294L663.6 294.8L663.6 295.6L663.7 296.5L663.8 297.1L663.9 297.7L664 298.5L664.1 299.1L664.2 300.2L664.3 301.4L664.3 301.9L664.3 302.7L664.5 303.7L664.5 304.4L664.4 305.5L664.5 305.7L664.6 306.5L664.7 307.2L664.8 308L664.8 308.8L664.8 308.2L664.9 307.4L665 306.4L665 305.4L665.2 304.7L665.4 303.5L665.4 302.5L665.6 301.8L665.6 301.4L665.8 300.9L665.8 300.4L665.8 299.2L666 298.4L666.1 297.5L666.2 296.8L666.2 296L666.3 295.3L666.3 294.8L666.3 294.4L666.3 293.8L666.3 292.9L666.3 292.2L666.4 291.1L666.4 290.5L666.4 289.9L666.6 288.6L666.6 287.7L666.6 287.2L666.6 285.9L666.6 285.3L666.6 284.4L666.7 283.8L666.7 283.2L666.8 282.3L666.8 281.5L666.8 280.9L666.8 279.9L666.9 278.9L666.9 278.1L666.9 277.6L666.9 276.9L666.9 275.8L666.9 275.2L667 274.6L667.1 273.5L667.2 273.1L667.2 272.3L667.1 271.5L667 270.4L667 269.9L667.2 269.2L667.2 268.1L667.4 267.3L667.6 268.1L667.9 269L668.2 270L668.5 270L668.7 270.5L668.8 271.3L669 271.6L669.3 271.8L669.5 271.8L669.7 271.9L669.9 271.7L670.2 271.4L670.4 271.7L670.6 272L670.6 272.8L670.6 273.6L670.6 274.3L670.6 274.8L670.6 275.9L670.6 276.5L670.6 276.8L670.7 277.8L670.6 279.3L670.6 279.9L670.5 281L670.6 281.5L670.6 282.2L670.7 283.4L670.8 284.1L670.8 285.1L670.7 285.6L670.7 285.8L670.7 286.5L670.7 287.6L670.7 288.5L670.8 289.4L670.8 290L670.9 290.8L670.9 291.4L670.9 292.4L671 293.3L671.1 293.9L671.1 294.5L671 295L671.1 295.5L671.1 296.6L671.1 297.7L671.2 298.5L671.3 298.9L671.3 299.9L671.4 300.9L671.3 301.8L671.3 302.4L671.3 303.3L671.4 304.1L671.5 304.9L671.5 305.7L671.5 306.5L671.5 307.5L671.5 308.3L671.5 308.9L671.6 309.6L671.5 311L671.4 311.6L671.3 312.2L671.3 312.6L671.3 313.1L671.3 314L671.3 314.6L671.3 315.6L671.4 316.5L671.5 316.9L671.6 317.9L671.5 319L671.5 319.6L671.5 320.4L671.6 320.9L671.6 321.7L671.8 320.7L672 319.7L672.3 319.2L672.5 318.6L672.6 318.4L672.7 318.9L672.8 319.5L673.1 320.1L673.2 321L673.3 321.8L673.5 322.2L673.7 323L673.8 323.9L674 324.9L674.1 326L674.3 326.8L674.4 325.9L674.4 325.1L674.5 324.4L674.5 323.3L674.6 322.9L674.8 322L674.9 321.2L674.9 320.7L674.9 319.8L675 319L675.1 318.2L675.2 317.2L675.4 316.5L675.4 315.8L675.4 315.2L675.5 314.4L675.5 313.6L675.7 313.5L676 313.7L676.2 313.8L676.5 313.4L676.8 313L676.9 312.3L677 311.9L677.1 311.1L677.2 310.8L677.4 310.1L677.5 309.1L677.5 308.6L677.6 307.3L677.6 306.7L677.7 306.1L677.9 305.4L678 304.7L678 303.7L678.2 302.8L678.4 302.3L678.5 301.3L678.6 300.5L678.7 299.9L678.8 299.1L678.8 298.3L678.9 298L679 296.8L679.1 295.4L679.4 295L679.5 294.1L679.7 293.8L679.8 293L680 292.1L680 291.1L680 290.5L680.1 290.1L680.1 289.1L680.2 288.1L680.5 287.6L680.6 287L680.8 286.2L680.9 285.3L681.1 284.5L681.3 283.7L681.4 283.3L681.5 283.2L681.6 282.1L681.8 281.3L681.9 280.2L682.1 280L682.2 279.2L682.4 277.9L682.5 277.2L682.6 276.4L682.7 275.8L682.7 274.9L682.7 274.1L682.7 273.7L682.8 273.1L683 272.2L683 272.3L683 271.3L683.1 270.3L683.2 269.2L683.2 268.7L683.2 267.6L683.3 267.3L683.5 266.6L683.6 266.1L683.6 264.9L683.7 265.5L683.8 266.4L683.9 266.9L684 268.2L684.1 268.5L684.1 269.4L684 269.6L684.1 271L684.2 270.9L684.4 271.5L684.4 272L684.5 273.2L684.7 274L684.7 275.3L684.8 276L684.9 277L685 277.6L685.1 278.4L685.2 277.7L685.2 276.9L685.3 276L685.4 275L685.4 274.4L685.5 273.9L685.5 273.8L685.4 272.7L685.3 271.9L685.4 271L685.5 270.7L685.6 269.7L685.7 268.5L685.7 268.1L685.8 267.2L685.8 266.3L686 265.5L686 264.9L686.1 264.2L686.2 264.9L686.2 265.7L686.2 266.3L686.3 267.1L686.4 267.8L686.5 269.3L686.6 269.6L686.7 270.2L686.7 270.3L686.8 271.5L686.9 272.8L687 273.6L686.9 274.3L687.1 275L687.1 275.6L687.2 276.6L687.2 277.4L687.3 276.8L687.3 276.1L687.4 275.1L687.4 274.1L687.4 273.7L687.4 272.7L687.4 272L687.4 271.1L687.4 270.3L687.7 269.8L687.7 269.1L687.6 268.1L687.6 267.6L687.7 266.9L687.8 266L687.9 265.3L687.9 264.4L688 263.6L688.1 262.9L688.4 262.8L688.6 263.4L688.9 263.6L689.1 264.2L689.3 264.4L689.6 264.6L689.6 265.3L689.6 266.2L689.6 266.7L689.7 267.5L689.6 268.1L689.5 268.8L689.4 270L689.5 270.8L689.5 271.7L689.5 272.7L689.5 273.4L689.7 274.2L689.7 274.9L689.9 276.1L689.9 276.7L689.9 277.5L689.9 278.4L690 279.3L690 280L690 280.8L690.1 281.7L690 282.5L690.1 283.2L690.1 283.8L690.1 284.1L690.2 285L690.1 285.3L690 285.8L690 287.3L690 287.4L690 288.7L690.2 289.3L690 290.2L690 290.9L690.1 291.7L690.2 292.5L690.2 293.4L690.2 294.1L690.2 294.9L690.3 295.6L690.3 296L690.3 296.7L690.3 297.6L690.4 298.6L690.5 299.3L690.5 299.9L690.6 301L690.5 302L690.6 302.7L690.6 303.4L690.8 304.4L690.8 305.1L690.9 306.1L691 306.7L691.1 307.6L691.2 308.6L691.3 309.4L691.3 310.4L691.4 311.3L691.5 312L691.7 312.9L691.8 313.7L691.9 314L692.1 314.6L692.2 315.3L692.2 316.2L692.3 317L692.4 318L692.5 318.9L692.6 319.7L692.8 320.4L692.9 320.6L693 321.3L693.1 322.2L693.2 322.8L693.3 322.2L693.4 321.5"/>
<path stroke="#ff0000" d="M692.9 320.6L693 321.3L693.1 322.2L693.2 322.8L693.3 322.2L693.4 321.5L693.6 321L693.6 320.3L693.7 319.4L693.9 318.5L694 317.7L694.1 316.8L694.3 315.8L694.4 315L694.5 314.5L694.5 313.4L694.6 312.7L694.6 312.3L694.8 311L694.8 310.6L694.9 309.7L694.9 308.7L695 307.9L695.2 307.1L695.4 306.5L695.7 305.6L695.9 304.9L696.1 303.8L696.3 303.5L696.4 303.1L696.4 303.8L696.6 304.8L696.6 305.3L696.5 305.4L696.6 306.3L696.7 307.4L696.8 308.1L697 309L697.1 309.6L697.1 310.5L697.2 311.3L697.3 312L697.4 312.7L697.4 313.4L697.5 314L697.5 314.6L697.5 315.5L697.5 316.2L697.5 317.2L697.7 317.6L697.8 318.6L697.9 320L697.9 320.6L697.9 321.2L698 321.9L698.2 321L698.4 320.5L698.5 319.9L698.5 319.8L698.6 318.7L698.6 317.8L698.8 317.3L699 316.4L699.2 315.7L699.3 314.6L699.4 313.9L699.5 313L699.7 312.4L699.7 311.4L699.8 310.8L700.1 309.9L700.2 309.5L700.3 308.5L700.3 307.8L700.5 307.3L700.6 306.1L700.8 305.3L700.9 304.8L701.1 304.2L701 304.2L700.9 303.4L701 303.7L701.2 301.3L701 299.5L701.4 298.7L701.8 298.4L702 297.5L702.5 297.4L702.7 297.5L702.9 298.2L703.2 298.4L703.4 297.9L703.6 297.4L703.8 297L704.1 297.5L704.3 297.3L704.6 297.8L704.8 299L705 299.8L705.2 299.1L705.5 299.8L705.8 299.3L706 299.4L706.1 300.5L706 301.4L706.3 303L706.7 304L706.7 304.3L706.6 304.5L706.7 304.8L707.1 305.8L707.5 306L707.5 307.2L707.6 307.4L707.7 306.9L708.2 307.5L708.6 309.3L708.8 308.2L709.1 308.2L709.4 307.8L709.7 307.7L709.9 307.3L710.2 307.3L710.4 307.2L710.6 306.7L710.7 306.3L711 306.5L711.4 306.9L711.7 306.1L712 306.2L712.1 305.7L712.1 304.8L712.3 303.1L712.5 302.5L712.9 302L713.1 301.3L713.4 300.3L713.4 298.6L713.6 298.1L713.8 298.1L713.6 297L714.1 296.4L713.8 294.6L713.6 294.3L714.1 293.3L713.9 292.2L714.2 290.8L714.6 290.6L715 290.1L715.1 289.6L715.3 289.3L715.7 287L715.9 288.1L716 288.4L716.4 288.4L716.7 288.4L716.7 289L717 288.7L717.6 288.9L717.4 289.5L718.1 290.7L718.3 291.2L718.6 293.8L718.6 293.7L718.6 294.2L718.2 295.2L718.4 294.5L718.6 293.7L718.6 293.3L718.8 292.7L719.2 291.5L719.8 290.6L719.8 289.2L720.1 290.4L720.3 290.2L720.8 289.4L721.1 289.6L721.3 290.3L721.6 288.5L721.8 289.2L722.1 289.1L722.3 288.7L722.6 288.9L722.8 288.3L723.1 288.6L723.3 289.1L723.4 289.9L723.7 290.2L724.1 291.1L724.6 290.9L724.6 291.7L724.9 292.2L724.9 293.9L725.2 294L725.5 293.3L725.8 293.8L726.1 294.3L726.3 293.8L726.6 293.7L727 292.7L727.2 293.9L727.3 293.6L727.5 292.1L727.7 291.4L728.1 290.2L728.3 289.6L728.5 290.2L728.7 289.7L729 290.7L729.3 290.3L729.5 290.9L729.7 290.9L730.1 290.9L730.3 290.6L730.4 289.9L730.7 288.3L730.9 287.3L731.1 288.4L731.4 287.3L731.6 287L731.8 287.8L732.1 287.5L732.3 287.3L732.6 286.8L732.8 286.6L733.1 286.8L733.3 286.2L733.5 287L733.8 287.2L734 286.1L734.3 287.2L734.5 287.5L734.8 286.6L735 285.6L735.3 286.2L735.5 286.2L735.8 285.7L736.1 287L736.1 287L736.3 288.3L736.3 288L736.7 288.9L737.4 288.9L737.4 289.9L737.9 290.4L737.9 290.8L738.1 291.9L738.2 292.2L739.2 290.9L739.5 293.1L739.6 294L739.6 294.7L739.7 295.3L739.9 295.9L740.1 296.5L740.2 295L740.3 295.8L740.5 296.4L740.7 298.6L740.8 299.4L741.4 300.6L741.7 300.3L742.2 300.5L742.3 300.7L742.5 300.1L742.7 299L742.9 298.5L743.2 298.2L743.2 297.5L743.6 296.9L743.8 295.7L744.2 296.6L744.6 296L744.8 295.6L744.9 295.1L745.1 294.9L745.4 294.4L745.7 294.4L745.9 293.4L746.2 293.2L746.5 291.8L746.7 291.5L747 291.2L747.3 291.4L747.6 291.2L747.8 290.8L748.1 289.9L748.3 289.4L748.6 288.8L748.8 288.6L749.1 288.5L749.4 288.1L749.6 288.6L749.7 288.9L749.9 287.9L750.1 288.1L750.3 288.5L750.6 287.9L750.9 288.3L751.1 289.5L751.3 288.9L751.6 289.1L751.8 288.2L752 288.4L752.3 287.8L752.5 288.5L752.8 287.7L753 288.5L753.2 288.7L753.5 288.8L753.7 288.2L754 287.9L754.2 288.3L754.4 288.4L754.9 288.4L755.2 289.4L755.4 289.5L755.7 288.5L755.8 287.8L756.1 289.2L756.2 290.5L756.4 291L756.6 291.7L756.9 291.3L757 291.4L757.3 291.8L757.4 291.7L757.6 293.1L757.8 293.7L758.3 294.4L758.6 294.8L758.8 294.2L759.1 296.1L759.4 295.9L759.6 296.5L759.8 296.3L759.9 296.6L760.2 296.1L760.5 296.1L760.6 294.8L760.8 293.6L761.1 294.2L761 292.6L761.3 291.5L761.8 292.2L762.1 290.8L762.5 289.6L762.7 289.4L763 289.7L763.2 289.8L763.4 289.2L763.7 289.4L763.8 288.4L764.1 288.7L764.3 287.4L764.5 288.3L764.9 286.9L765.1 287.3L765.3 287.1L765.6 287L765.8 287.4L766.1 286.1L766.3 287L766.6 287L766.9 287.3L767 287.2L767.3 287.9L767.5 287.5L767.8 288.2L768 288.2L768.2 288.9L768.5 288L768.7 287.7L769.1 287.7L769.5 286.7L769.4 286.8L769.4 285.7L769.9 285.7L770.2 284.8L770.5 284.8L770.8 284.6L771 284.7L771.2 284.1L771.5 284.1L771.7 283.5L771.9 282.2L772.2 282L772.5 282.3L772.7 282.6L773 281.5L773.3 281.6L773.7 280.9L774.1 281.2L774.4 280.1L774.7 280.9L775 280L775.3 278.6L774.9 277.3L775.2 276.5L775.5 276.2L775.7 276L776 276.1L776.2 275.6L776.5 276.7L776.7 275.2L777 275.5L777.2 274.9L777.5 274.6L777.7 273.7L778 274L778.3 273.9L778.6 273.1L779.1 272.8L779 271.4L779.4 273.5L779.5 275L779.8 274.2L779.9 273.8L780.1 271.5L780.3 270.4L780.6 269.7L780.8 269.3L781.2 269.3L781.6 269.3L782.1 269.3L782.4 269.8L782.6 269.1L782.7 268.5L783 266.2L783.2 266L783.2 265.3L783.5 265.5L783.8 264.7L783.9 264.9L784.2 264.7L784.3 264.3L784.5 263.9L785.1 263.1L785.4 262.7L785.8 263.7L785.5 263.9L786 264L786.2 265.1L785.8 266.5L785.6 265.8L785.7 266.3L786 268.7L786.3 269.1L786.5 269.4L786.8 271.3L787 272.7L787.4 271.3L787.6 272.8L788 273.3L788.1 274L788.1 275.4L788.3 274.3L788.5 273.4L789 272.4L788.8 271.1L789.5 270.1L789.4 269.4L789.9 270.6L790.2 268.1L790.7 269.2L790.7 267.9L791 267.3L791.3 266.8L791.4 266.1L791.7 264.7L791.8 266.8L792.1 266.1L792.1 265.3L792.5 265.5L792.8 265.6L793.1 264.9L793.3 264.9L793.5 263.7L793.8 265L794 264.5L794.3 264.5L794.6 264.2L794.8 264.5L795.1 264.2L795 265.2L795.2 266.5L795.3 267.6L795.6 267.2L796.1 268.1L796.2 267.6L796.2 268.3L795.9 268.3L796.4 270.8L796 271.4L796.4 271.9L796.2 271.7L796.3 272.9L796.3 273.3L796.2 274.2L796.5 275.2L796.5 276.1L796.5 276.2L796.7 277L797.5 279.1L797.7 276.9L797.7 278.3L797.8 277.7L797.5 279.2L797.2 280.3L797.3 282.3L797.1 283.9L797.1 285L797.1 284.9L797.3 285.4L797.2 284.7L797.3 284.1L797.3 283.8L797.7 282.6L798 281.3L798.1 281.3L797.8 280.8L797.9 281.3L798.2 281L797.9 280L798.3 278.2L797.9 277.2L798.4 276.2L798.6 275.9L799 274.8L799 274L799 272.9L799.2 272.5L799.4 270.9L799.6 271.5L800 270.9L799.9 271L800.3 272.2L800.7 271.3L800.9 269.4L801.1 269.1L801.4 269.2L801.8 270.6L802.2 270.9L802.4 271L802.7 271L803.1 273.2L803.2 272.8L803.3 273.1L803.1 274.1L803.4 275L803.6 275L803.9 274.5L804.1 275.3L804.3 275L804.6 274.9L804.8 274.8L805 274.7L805.3 274.5L805.4 274.3L805.8 275.6L806.3 276.6L806.7 276L807.2 276.8L807.5 277.3L807.4 276.9L807.3 277.9L807.4 279.2L807.7 280.2L807.6 281.1L808 280.6L808.2 279.8L808.5 279.3L808.5 279.4L808.8 279.4L808.8 276.7L808.8 275.5L809.1 273.8L809.3 273.8L809.5 273.8L809.7 273L809.9 273.2L810.2 273.5L810.4 271.9L810.7 272.7L811 271.9L811.2 273.6L811.4 273L811.6 272.7L811.7 273L811.8 273.4L812.3 274.5L812.5 274.5L812.5 275.8L813 276.6L813.3 277.3L813.5 277.3L813.7 277.5L813.9 277.3L814.2 277.6L814.4 276.6L814.7 276.6L814.9 276.6L815.1 277.1L815.3 278.4L815.7 279.1L815.6 279.7L815.5 281.7L815.4 282.3L815.4 283.3L815.6 284.3L815.4 285.7L815.7 287L815.9 287.4L815.9 287L816.1 287.8L816.3 288L816.2 288.1L816.2 289.5L816 290.6L816.1 291.6L816.3 291.2L816.9 290.3L817.1 291.3L817.5 292.5L818 293.3L818.3 292.2L818.6 291.6L818.4 290.7L818.4 289L818.7 286.8L818.8 286.7L818.9 285.7L819.5 286.6L819.9 286.6L819.8 286.3L820 286.3L820.1 287.1L820.3 286.7L820.5 288.5L820.9 288.6L820.8 290.5L821.6 289.1L821.4 291.7L821.3 292.6L821.5 292.5L821.2 293.6L821.2 294.5L821.2 295L821.2 295.4L821.2 294.4L821.3 296.2L822.7 297L822.6 298.3L822.9 298.7L822.9 299.1L822.8 299.6L823 301.4L823.3 300.4L823.3 299.2L823.7 299.1L823.7 298.3L824.1 299L824.5 298L824.8 298L824.9 297.7L825 297.9L824.9 298.1L825.2 299.2L825.1 300L825.6 300.8L826.1 301.2L826.3 302.2L826.6 302.8L827.1 303.9L827.4 303.9L827.6 305L827.9 305.2L828.1 303.2L828.3 303.2L828.5 302.1L828.8 302.4L829 303L829 302.8L829.4 303.5L829.3 303.5L829.6 303.8L829.7 305.5L830.3 307.1L830.1 307.4L830.1 306.2L830.6 306.8L830.8 308.7L830.4 309.7L830.6 310.7L830.8 311.1L830.8 312.1L830.5 312.7L830.4 312.9L830.4 314.9L830.6 314.8L830.8 315L831.1 316.5L831.4 317.3L831.5 317.5L831.6 318.5L832 319.9L832.1 318.5L832.2 317.3L831.9 317.1L832.4 315.5L832.4 313.6L832.7 313.8L833 312.5L833.1 312.1L833.5 312.2L834.1 312.3L834.4 311L834.8 310.2L835.2 309.5L835.3 309.1L835.2 309.3L835.4 308.5L835.6 308L835.8 308.2L836.3 309.4L836.5 308.6L836.7 309.2L836.9 308.2L837.2 308.3L837.4 308.4L837.7 308.2L837.9 307.6L838.2 308.3L838.4 308.9L838.7 309.9L838.9 309.2L839.3 309.4L839.7 309.7L840.1 310.6L840.2 310.1L840.5 311.4L840.7 314.5L840.3 313.8L840.8 315.3L841.1 315.4L841.1 316.4L841.4 317L841.6 317.6L841.9 318.8L842.3 318.6L842.3 320.2L842.9 320.6L842.9 320.4L842.9 321.3L843.1 322.2L843.4 321.3L843.8 319.8L844.2 319.2L844.7 318.6L844.6 318.7L844.9 317.5L845.3 315.5L845.3 316.2L845.4 315.1L845.4 314.7L845.3 314L845.5 313.3L845.9 312.9L845.9 310.8L846 310.4L846 309.7L846.5 309.1L846.9 310.1L847 309L847.5 309.3L847.9 308.9L847.8 308L847.8 307.2L848.1 306.4L848.7 306.2L848.6 306L848.7 303.5L848.6 303.1L849.2 302.6L849.2 301.8L849.4 302L849.5 301.4L849.5 300.9L849.5 300.2L849.1 299.5L849.2 298.5L849.8 298.3L850 297.9L850.2 296.6L849.9 297.1L850.5 296.5L850.5 295.1L850.5 293.1L850.7 292.2L850.8 291.6L851 290.3L851.1 290.1L851.2 289.7L851.8 287.8L851.6 287.5L851.8 286.8L851.5 285L851.8 283.4L851.7 283.4L851.5 283L851.9 282.6L852.4 281.9L852.7 281.7L852.9 281.2L853.3 280.4L853.6 281L853.8 278.9L853.8 278.1L854.1 277.9L854.3 276.3L854.4 274.2L854.6 274L854.4 272.3L854.3 272.5L854.4 272.1L854.8 271.4L855.2 270.8L855.4 270.2L855.7 270.3L855.9 270.2L856.2 272.2L856.4 271.6L856.6 270.1L856.7 270.7L856.7 270.4L856.6 270.1L856.7 271.4L856.8 273.3L857.1 273.3L857.4 275.8L857.8 276.2L858.2 276L858.2 276.6L858.2 277.7L858.3 277.6L858.2 278.5L858.4 279.6L858.5 280.1L859.3 281.7L860 280.1L859.7 280.5L860.2 282.4L860 284.2L859.9 285.4L860 286.1L860.3 286.8L860.2 287.8L860.4 287.7L860.6 288.9L861 289.3L861.3 292.7L861.7 292.7L861.7 292.1L861.8 292.2L862.1 293.1L862.2 292.6L862.5 291.4L862.8 290.4L863.1 291.2L863.3 293.6L863.6 293.8L863.8 294.6L864.1 294.6L864.2 294L864.2 292.7L864.2 293L864.3 291.6L864.5 291.2L864.2 290.5L864.5 289.9L864.7 288.6L864.8 286.5L865.1 285.3L865.5 285.4L865.7 284.9L865.9 284.6L865.8 283.6L866.3 282.8L866.1 281.9L865.9 280.8L866.4 281.2L866.9 279.6L867.1 278.6L867.1 277.4L867.2 276.8L867.5 277L867.6 275.9L867.6 275.7L867.9 276L868.1 276.1L868.4 277.1L868.7 276.2L868.9 276.6L869.2 276.6L869.4 277.5L869.6 277L869.9 278L870.1 278.1L870.3 278L870.6 278.7L870.9 279L871.1 278.9L871.3 277.7L871.5 275.8L871.7 277L871.9 277L872.4 277.7L872.4 279.2L872.5 278.7L872.8 280.3L872.8 280L873.5 281.6L873.6 281L873.9 281L874.2 279L874.5 278.1L874.5 277.4L874.7 275.9L874.5 276.3L874.8 274.6L875.3 273.2L874.8 271.9L874.9 271.5L875 271.5L874.9 271.4L875 271L875 270.1L875.2 269.6L875.5 268.8L876.1 266.9L876.2 266.8L876 266.9L876.4 265.9L876.7 265.4L876.7 264.7L877.1 263.5L877.3 263.2L877.5 262.1L877.5 262.5L877.8 261.7L878.2 262.2L878.3 261.9L878.6 262L878.9 262.5L879.1 263.6L879.3 263.6L879.5 263.1L879.8 263.1L880.1 263.2L880.3 262.5L880.6 262.6L880.8 262.8L881.1 262.2L881.3 261.7L881.5 261.3L881.7 261.3L882 259.3L882.4 261.3L882.6 261.7L882.8 261.2L883.1 261.9L883.4 261.3L883.6 260.3L883.8 261L883.8 259.8L883.9 261.4L884.4 259.5L884.6 259.8L885.1 260L885.4 259.9L885.6 258.7L885.8 257.3L886 257.3L886.3 256.8L886.6 257.3L886.8 258.9L887.1 258.6L887.3 259.3L887.5 258.1L887.8 256.3L888 256L888.3 255.9L888.5 256L888.8 256.2L889.2 256.7L889.4 256.1L889.5 258.3L889.8 259.6L890 259.8L890.1 258.6L890.3 258.3L890.3 258.5L890.4 257.2L890.5 257.3L890.8 256.7L891.3 257L891.3 256.1L891.5 253.6L891.3 252.2L891.5 251.2L891.6 251.2L891.9 251.1L892.1 248.7L892.3 249.5L892.6 250.8L892.8 249.4L893.2 250L893.5 248.8L893.8 247.7L893.9 246.9L894.1 246.5L894 246.4L894.2 245.5L894 244.7L894.2 244.2L894.5 244.1L895.2 243L895.7 241.1L895.7 239.7L895.9 239.9L895.9 239.1L895.8 237.9L895.5 236.6L895.3 235.9L895.7 236.4L896.4 236L896.2 235.7L896.7 234.6L896.4 233.3L896.5 233.7L896.5 235L896.2 235.3L896.3 237L896.2 238.3L896.2 239.4L896.4 239.6L896.4 241.6L896.8 241.3L896.9 240.7L896.8 241.1L896.8 241.9L897 243L897.2 243.7L897.2 247.1L897.2 245.2L897.3 246.2L897.7 245.9L897.3 247.6L897.8 249.3L897.8 250.1L897.8 248.8L897.9 251L897.8 251.5L897.9 252.7L897.8 253.4L898.2 254L898 252.9L898.2 253.1L898.5 252.6L898.4 250.9L898.8 249.1L898.7 248.4L899.1 247.9L899.1 247.4L899.4 247.8L899.5 247.2L899.2 247L899.4 246.6L899.3 244.7L898.9 243.1L899.2 242.3L899 241.7L898.9 241.5L899 240L899.2 238.7L899.3 239L899.7 237.7L899.8 237.4L899.6 237.6L899.7 237.2L899.9 236.2L900 234.3L900.2 233.5L900.4 233.2L900.4 232.2L900.4 231.3L900.4 231.6L900.4 230.9L900.5 229.1L900.6 228.5L900.3 227.7L900.6 226.8L901.1 227.4L901.5 227.2L901.2 226.6L901.4 224.5L901 223.3L900.8 222.3L900.9 222.2L901.4 221.4L901.5 220.1L901.4 219.3L901.5 218.2L901.4 219.3L901.5 219.8L901.3 220.9L901.5 221.2L901.5 221.3L901.7 221.2L902.2 222.5L901.9 223.3L902.4 225L902.6 226.1L902.9 226.4L902.7 227.5L902.6 228.1L902.4 228.6L902.6 229.9L902.8 230L902.8 230.5L902.9 231.3L903 231.7L903 233.3L902.8 235L902.6 235.7L903 236.8L903.6 237.9L903.4 238.9L903.6 240L903.5 241.2L903.7 242.3L903.2 242.2L903.7 243.6L904.1 245.7L904 243.6L904.2 245.6L904.1 246.6L904.4 247.3L904.5 245.2L903.9 247.9L903.6 249.8L903.5 250.9L903.8 252.1L904 252L904.5 253.3L904.4 253.6L904.3 254L904.1 254.8L904.5 255.7L904.8 256.2L904.8 256L904.7 257L904.9 256.4L905.2 255.8L905.8 254L905.9 253.6L906.4 255.4L906.3 253.9L906.3 253.7L906 253.1L906.1 251.5L906.7 249.9L906.4 250L906.6 248.7L906.9 248L907.1 246.2L907.2 245.3L907.2 245.3L907.6 244.9L907.8 243.1L908.1 242.4L908.2 243.3L908.6 240L908.4 241L908.5 239.9L908.6 238.8L908.6 237.8L908.8 237.5L909.2 237.4L909.6 236.3L909.2 236.1L909.6 235L909.5 234.2L910.2 232.1L910.5 231.5L910.6 228.7L910.7 229.6L910.6 229.4L910.9 229.1L911.2 226.9L911.4 226.2L911.8 226.6L911.6 225.5L911.5 224.7L911.6 225.6L911.9 225.4L912.1 225.8L912.3 226.3L912.7 225L912.9 227.8L913.2 228.3L913.4 228.6L913.8 228.1L913.9 226.8L914.1 226.6L914 225.8L914 225.4L914.1 224.3L914 224L914.2 224.2L914.4 221.5L914.6 222.4L914.5 221.3L915 221.4L915.3 220.9L915.2 220L915.2 218.8L915.3 218.6L915.4 217.3L915.6 217L916 215.9L916.4 215.4L916.7 215.9L916.7 215.5L916.7 214.1L917.1 214.1L916.7 212.8L916.5 212.6L916.4 210.1L916.8 207.8L917.1 207.3L917 206.2L917.2 205.2L917.2 204.8L917.4 202.9L917.4 202.2L917.5 202L917.3 199.8L917.8 199.4L917.9 196.8L917.8 196.1L918 194.8L918.2 194L918.4 193.4L918 192.8L917.9 192.9L918.1 192.1L918.1 192.1L918.3 191L918.5 191.1L918.4 190.6L918.5 189.5L918.3 188.1L918.2 186.7L918.6 185.8L918.9 185.1L918.9 185.5L918.8 184L919 183.4L918.6 182.6L918.4 179.6L918.1 180.1L917.9 181.3L918 179.9L918.1 178.5L918.3 177.3L918.5 177L918.5 176.4L918.5 176.3L918.7 175.4L918.8 175.1L918.9 174.5L919 173L919.1 171.7L919 170.8L919 171L919 170L918.9 168.8L918.6 169.7L918.6 169.5L918.7 168.5L918.9 165.6L918.7 165L919.4 165.1L919.7 162.8L919.8 161.5L920 160.8L920.2 160.7L920.1 160.3L920.1 159.7L919.9 159.2L920.1 158.3L920.4 156L920.6 155.5L920.8 155.7L920.9 156.4L921.3 157.7L921.3 158.6L921.2 160.6L921.2 159.9L921.3 160.4L922 162.2L922.5 162.7L922.5 165.6L922.7 165.1L922.1 166L922.7 166.1L922.9 166.7L922.6 166.6L922.3 167L922.2 169.8L922.4 170.2L922.5 171.4L922.5 172.3L922.6 171.1L922.7 171L922.8 171.3L923.6 172L923.1 170.4L923.8 171.5L923.2 169.4L923.5 169.8L923.9 167.6L924.1 166L923.8 164.6L923.6 164.1L923.6 162.9L923.7 161.3L923.8 159.9L923.8 158.8L924.1 156.9L924.2 155.3L923.9 155.1L924.1 157.3L924.4 155.3L924.9 155.6L925 155.5L925.5 153.3L925.9 154L926.1 154.7L926.6 156.1L927.1 155.5L926.8 156.8L927 155.7L927.1 157.3L927.4 158.2L927.5 160.2L927.8 161L927.9 161.8L927.7 162.6L928 164.8L928.6 166.9L929.1 164.9L929 164.5L928.8 165.8L928.9 166.7L929.1 166.9L929.1 167.3L929.3 165.9L929.6 164.5L929.7 163.8L929.9 166.4L930.1 164.2L930.3 164.8L930.7 162.9L931.1 163L931.2 162.1L931.4 161.9L931.8 161.4L932 160.7L932.2 159.7L932.6 159.2L933 160L933.2 158.1L933.3 157.8L933.6 158.3L933.8 157.8L934.1 157.9L934.3 157.5L934.5 157.2L934.7 160.2L935 160.5L935.2 161L935.5 160.2L935.9 159.3L936.3 158L936.5 157.9L936.6 156L937.1 155.3L937.5 152.2L936.9 153.7L937.3 153.5L937.9 151.5L937.7 150.2L937.7 149.2L937.8 149.2L937.8 147.7L937.8 145.7L938.3 145L938 144.2L937.9 144.6L938.1 144.9L938.9 144L939.2 145.6L939.1 143.3L939.6 142.9L939.7 141.3L939.5 141.2L939.5 139.6L940.4 138.9L940.8 137L940.8 137.6L940.8 137.9L941.5 136.8L941.6 136.3L941.9 135.1L942.1 134.8L942.3 133.4L942.2 131.5L942.2 130.6L942.3 131.3L942.3 130.3L942.2 131L941.8 129.1L941.9 128.5L942.1 127.5L942.6 126.7L942.6 126.7L942.9 125.3L942.9 123.9L943.1 124.1L943.3 123.3L943.4 123.4L943.7 123L943.5 123.1L943.7 120.2L943.1 118.4L943.8 117.3L944 115.2L943.9 114L943.7 113.7L944 112.9L944 113.7L943.6 113L943.8 111.3L944.1 110.9L944.2 111.2L944.1 110.1L944 108.8L944.1 110.5L944.1 108.9L943.9 107.8L943.8 106.4L943.7 104.6L943.7 103.7L943.7 102.7L944.3 102.2L944.4 100.3L944.7 101L944.3 100.6L944.2 99.6L944.2 98.3L944.1 96.5L944.3 96.5L944.3 95.8L944.5 95.2L944.5 93.1L944.6 92.1L944.8 90.9L945 91.8L945.3 89.7L945.7 91.4L946.1 92.1L946 91.2L945.9 90.6L945.9 88.8L945.9 87L945.9 86.4L945.9 86L945.7 85.6L945.7 86.6L946.3 84L946.5 82.8L946.9 81.7L946.7 81.4L946.8 79.6L946.9 79.6L946.7 79.9L946.9 79.6L947.1 77.2L947.2 76.6L947.6 75.1L947.8 76.7L947.9 76.3L948.4 76.4L948.6 77.2L948.8 77.1L949 74.4L949.3 75.4L949.8 75L949.9 73.8L950.2 74.7L950.1 73.3L950.3 72.4L951 72.7L951.3 72.6L950.8 71.6L951.3 71.9L951.7 73.7L951.6 74.2L951.9 73.6L951.7 75.2L951.7 77L952 80.5L952.1 80.8L952 80.3L951.7 80.7L951.9 82.6L951.9 84.5L951.5 83.2L951.7 81.9L951.8 85L951.9 83.9L952.3 86.2L952.5 89.1L952.5 90.8L952.3 90.3L952.4 89.4L952.3 91.9L952.4 92.7L952.5 93.8L952.7 93.7L952.9 94.2L952.9 92.4L952.7 94.3L953.2 93.2L953.1 93.9L953.3 96.4L953.8 96.6L953.4 98.3L953.3 101.1L953.3 102.1L953.3 102.3L953.4 103.3L953.5 104L953.4 106.7L953.5 108.3L953.3 108.5L953.5 108.8L952.9 107.5L953.2 109L952.9 110L953.2 110.2L953.1 112.9L953.2 112.1L953.5 113.1L953.6 113.8L953.8 115.4L953.9 116.4L953.9 116.9L953.9 118.4L954 117.9L953.6 118.4L953.6 122.2L953.6 122.7L954.1 124.3L954.5 125.1L954.7 125.6L954.7 127.9L954.2 128.4L954.1 129L954.1 129.8L954.4 129.8L954.3 130.3L954.1 130.1L954 130L954.5 130.5L954.5 130.8L954.5 132.8L954.7 132.7L954.8 132.7L955.2 134.5L954.9 134.3L954.8 135.5L954.9 134.8L954.8 133.9L954.9 133.6L955 133.7L954.7 130.6L954.6 130.3L954.8 131.1L955.2 131L955 129.4L954.9 126.9L955 126.6L954.8 125.4L954.7 126.4L955 126.5L955.8 125L955.8 124L955.8 123.7L955.7 122.6L956.1 120.4L955.7 120.1L955.8 117.7L955.8 117.6L956.1 118.9L956.3 116.8L956.5 118.6L956.7 117.5L957 115.1L957.2 117.7L957.4 118.1L957.7 117.3L957.9 118.1L958.1 117.4L958.3 117.3L958.4 118.9L958.8 121L959.6 117.7L959.4 118.9L959.3 119.7L959.4 121.2L959.3 122.6L959.4 122.1L959.2 121.6L959.5 122.1L959.2 121.3L959.3 121.9L958.9 120.9L958.9 117.9L958.9 116.2L958.9 113.3L959.1 113.6L959.4 112.7L959.3 112.8L959.5 112.7L960 113L959.8 112.9L959.9 111L960.2 109.9L960.5 110.4L960.7 110.5L961 109.3L961.2 110.4L961.4 109.7L961.7 111.9L961.9 111.6L962.1 111.4L962.1 112.3L962.4 113.4L962.5 113.1L962.5 115.3L962.5 116.1L962.2 115.1L962.7 119.3L962.8 119.7L962.9 118.4L962.8 119.9L963 119.6L963.2 120.1L963.3 121L963.5 121.6L963.7 121.2L963.5 119.9L963.6 119.3L964 118.6L963.9 118.9L964.1 117.3L964.4 116.2L964.7 113.6L964.9 112.2L964.5 110.4L964.9 111.1L965 111.9L964.7 108.7L964.5 108.5L964.6 108.3L964.4 108.1L964.7 109.3L964.7 108.6L964.7 107L964.5 106.7L964.3 106.9L964.2 105.2L965 104.9L965 104.1L965.1 103.3L965 104.2L965.4 100.9L965.5 101L965.2 98.6L965.3 98L965.5 100.2L965.5 101L965.7 100.1L966 99.2L966.3 97.9L966.5 96L966.7 96.3L966.5 96.8L966.9 99L966.6 98.4L966.5 98.2L967.6 96.9L967.7 98.5L967.8 101.5L968 102.6L967.7 103.6L967.8 104.7L968.1 105.5L968.2 105.4L967.6 105.2L967.5 104.6L967.7 103.6L967.8 103.5L967.9 101.5L968.1 102L968.1 101.4L968.1 99.3L968.8 96.9L968.7 95.4L968.3 95.2L968.5 97.5L968.4 95.9L968.2 96.9L968.1 92.7L968.2 95.4L967.8 94.1L967.8 94.1L967.7 91.4L967.8 90.1L967.7 88.9L967.7 89.3L967.8 88.7L967.9 88.2L968.1 88.2L968.2 87L968.3 85.9L968.4 86L968.7 84.3L969 84.4L969.4 81.5L969.7 79.6L970.1 79.4L970.1 79.8L970.4 79.2L970.7 78.2L970.9 78.1L971.3 79.1L971.6 78.5L971.9 74.7L972 74.1L972.2 76L972.3 75.8L972.5 76.6L972.4 77.2L972.3 77L972.2 77L972.4 78.2L972.4 78.9L972.5 78.4L972.7 78.9L972.9 79.5L972.9 81.5L972.9 81.5L973 83.2L973.3 85.4L973.4 86.3L973.5 87.2L973.2 87.5L972.7 90L972.9 89.8L973.3 90.6L973.6 91.6L973.2 93L973 92.7L973.1 93.8L973.2 96L973 97.5L973.5 96.7L973.4 98.8L973.3 100.7L973.2 100.3L973.2 101.1L973.5 101L973.6 101.1L973.3 102.4L973.3 101.5L973.2 100.1L973.2 98.4L973.2 96.9L973.4 97.2L973.5 95.7L973.8 95.4L973.7 96.4L973.8 96.3L974 95.3L974 95.2L974.4 95.1L974.5 92.9L973.7 91.8L973.5 92.1L973.9 90.5L973.9 91.8L974 91.3L974.1 89.1L974.3 87.1L974.2 87.8L974.3 86.2L974.4 85.7L974.5 84.3L974.5 84.1L974.9 82.9L975 83.7L974.9 84.9L975 86.4L974.8 86.6L974.8 88.1L974.7 88.5L975.1 88.5L974.8 89.2L975 88.5L974.8 89.2L974.9 89.5L975 90.5L975.1 91.1L975.5 92.9L975.8 92.5L975.8 93.4L976.1 94.6L976.2 94.9L976.5 96.5L976.6 97.4L976.6 97.8L976.6 98.6L976.8 97.7L976.8 97.2L977 97L976.8 96.8L977 95.4L977.1 95.4L977 95.5L977.4 93.6L977.8 93.2L977.7 93.1L978.1 93.1L978.4 91.2L977.9 90.8L977.7 90.3L978 89.4L978.2 85.9L978.2 86L977.9 84.3L978 83L978 83.7L978.2 82.5L978.6 82L978.8 81.9L979 81.6L979.3 79.5L979.5 77.8L979.7 78.8L979.9 79.4L980.4 81.3L980.5 81.9L980.6 81.7L980.4 82L980.5 83L980.3 83L980.4 84.2L980.6 86.9L980.5 86.5L980.6 87L980.7 91.3L980.6 94.1L980 92.9L979.7 91.4L980 95.2L980.1 94.6L980 95.2L980.3 97.1L980.6 96.4L980.9 95.4L980.7 97.5L980.9 96.2L980.9 98.4L981 98.8L980.8 99.9L981 101L981.1 102.1L981 100.7L980.9 100.4L980.9 98.8L981 96.5L981.3 95.4L982 95.2L982.2 96.4L982.4 95.6L982.5 96.4L982.7 96L983.1 93.9L983.3 93.6L983.4 93.8L983.6 93.3L983.5 94.4L983.3 93.9L983.3 95.1L983.7 95.9L983.9 95.4L983.6 99.6L983.7 100.1L984 101.1L984.3 103.1L984.4 104.6L984.4 104.1L984.1 105L984 105L984 105.8L984.4 105.3L984.5 103.7L984.6 101.1L985.1 100.5L985.1 99.8L985.1 98.2L985.3 97.6L985.8 98.1L985.8 93.9L985.8 94.6L985.5 96.2L985.2 93.3L985.7 94.2L985.9 93.8L985.8 89.6L985.9 90.7L985.8 90L985.8 89.2L985.4 88.2L985.5 89.3L985.5 91.1L985.6 91L986.2 90.2L986.9 91.1L986.9 92.1L987.6 91.4L987.2 94L987.2 92.9L987.3 91.9L987.3 90.6L987.5 88.9L987.7 89L987.7 89.4L987.6 87.6L988.3 88.4L988.2 87.4L988 85.9L988.2 85.4L988.6 83.5L988.5 83L988.7 84.3L988.4 83.6L988.7 83.4L988.9 83.2L989.3 82.1L989.5 80.2L989.9 79.9L989.9 81.4L990.2 81.1L990.2 81L990 83.8L990.2 83.3L990.4 85L990.5 86.2L990.9 87L990.8 86.6L991 88.8L991.3 89.7L991.7 88.9L991.9 86.5L991.8 86.6L991.8 86.7L992 86.4L992.5 82.9L992.6 81.5L993 82.4L993.2 82.8L993 80.7L993.1 82.5L993.3 81.6L993 80.1L993.2 80.4L993.3 81.7L993.5 83.5L994.2 83.8L994.4 84.5L993.8 85.4L994.1 86.4L994.5 85.7L994.2 87.5L994 87.8L994.4 87.4L994.4 88.7L994.4 89.6L994.7 91.6L994.9 90.9L995.1 91.7L995.4 89.4L995.6 88.9L995.9 90.6L996.1 90.4L996.2 90L996.2 91.8L996 93.2L996.5 92.8L996.6 93.9L997.1 95L997 95L997.7 97.2L997.5 96.7L997.6 97.1L997.5 98.1L997.5 96.3L997.6 99.8L997.5 101.5L997.7 101.7L998 102.6L997.9 102.7L997.7 103.6L997.7 103.6L997.6 104.2L997.8 104.4L998.1 103.4L998.3 107.6L998.1 108.9L997.9 105.8L997.9 106.5L998.3 108.9L998.6 110.9L998.5 111.2L998.9 112.7L998.9 112.7L998.9 113.0"/>
<path stroke="#002060" d="M77.1 448.2L77.3 448.2L77.6 447.8L77.8 447.4L78.1 447.3L78.3 446.6L78.6 447L78.8 447.2L79 447.2L79.3 447.5L79.5 447.6L79.8 447.5L80 447.6L80.3 447.1L80.5 447.2L80.7 447.3L81 447.1L81.2 447L81.5 446.9L81.7 446.4L82 446.3L82.2 446.7L82.5 446.7L82.7 446.8L83 446.3L83.2 446.2L83.5 445.9L83.7 446.4L84 446.5L84.2 446.4L84.5 446.7L84.7 446.9L85 447.3L85.2 447.5L85.5 447.7L85.8 447.6L86 447.6L86.3 447.5L86.5 447.2L86.8 447.1L87 446.2L87.3 446.5L87.5 446L87.8 445.7L88 445.5L88.2 445.6L88.5 445.8L88.7 445.5L89 445.8L89.2 445.7L89.5 445.9L89.7 446.1L90 444.9L90.2 444.9L90.5 445.4L90.7 445L91 445L91.2 444.9L91.4 445.1L91.7 445.4L91.9 445.2L92.1 446.1L92.4 446.5L92.6 446.4L92.9 446L93.1 446.4L93.4 445.5L93.6 446.1L93.9 447.1L94.1 447.3L94.4 447.5L94.6 447.5L94.8 447.5L95.1 447.7L95.3 447.6L95.6 447.9L95.8 448.2L96.1 448.2L96.3 448.1L96.6 447.6L96.8 447.9L97 447.7L97.2 448.6L97.5 448.2L97.7 448L98 448.9L98.3 448.8L98.5 450L98.7 449.8L98.9 448.8L99.2 449.2L99.4 448.8L99.6 449.6L99.9 449.7L100.1 449.7L100.4 449.7L100.6 450L100.9 449.9L101.1 449.5L101.4 449.8L101.6 449.3L101.9 449.2L102.1 449.2L102.4 449L102.6 449.1L102.8 449.8L103.1 449.4L103.3 449.7L103.6 449.8L103.8 450.1L104.1 450.3L104.3 450.2L104.6 451.2L104.8 451L105.1 451.8L105.3 451.2L105.6 450.5L105.8 450.7L106 450.8L106.3 451.3L106.5 451.2L106.8 450.9L107 451.4L107.3 451.6L107.5 451.7L107.8 451.5L108 451.6L108.3 451.8L108.5 451.9L108.8 451.5L109 451.7L109.3 451.3L109.5 451.4L109.8 451.6L110 452.2L110.2 452.7L110.5 452.6L110.7 452.6L111 452.9L111.3 453.1L111.5 453.3L111.7 453.6L112 453.4L112.2 452.9L112.5 453.3L112.8 453.5L113.1 453.7L113 452.5L113.2 452.3L113.5 451.7L113.4 451.8L114.1 452L114.3 451.6L114.5 451.9L114.8 451.8L115 451.8L115.3 452L115.5 452.4L115.7 452.6L116 452.9L116.2 452.8L116.4 452.2L116.7 452.4L116.9 452.1L117.2 451.6L117.4 452.2L117.6 452.4L117.9 452.2L118.1 452L118.3 452.1L118.6 452L118.8 452.5L119.1 453.2L119.3 452.7L119.6 452.9L119.8 453.2L120 452.9L120.3 453.2L120.5 453.5L120.8 453.2L121 453.5L121.3 452.9L121.5 453.4L121.7 453.3L122 453.1L122.2 453L122.5 452.7L122.7 452.6L123 452.3L123.2 452.2L123.4 452.2L123.7 452.1L123.9 452L124.2 452.4L124.4 452.8L124.6 452.5L124.9 451.6L125.1 451.9L125.3 452.2L125.6 452.4L125.8 452.1L126 453.6L126.3 453.2L126.5 453.6L126.8 453.6L127 453.5L127.3 453.4L127.5 453.3L127.8 453.5L128 454L128.3 453.7L128.5 453.2L128.8 453.2L129 454L129.2 453.7L129.5 454.3L129.7 453.8L130 453.8L130.2 454.1L130.5 454.3L130.7 454.3L131 454L131.2 454.1L131.5 454.2L131.7 454.2L132 453.8L132.2 453.7L132.5 454.4L132.7 454.7L132.9 454.2L133.2 454.4L133.4 454.9L133.7 454.6L133.9 454.3L134.2 454.6L134.4 454.9L134.7 454.7L134.9 454.3L135.1 454L135.4 453.7L135.6 454.1L135.9 454.3L136.1 453.8L136.4 453.7L136.6 454.5L136.9 454.3L137.1 453.8L137.3 454.2L137.6 454.4L137.8 454.3L138.1 454.4L138.3 454.2L138.6 454.6L138.8 454.5L139 454.1L139.3 454.4L139.5 455L139.8 454.6L140 454.7L140.3 455.5L140.5 455.3L140.7 455.1L141 455.4L141.2 455.2L141.5 454.7L141.7 455.6L142 455.3L142.2 455.1L142.4 454.8L142.7 455.1L142.9 455.8L143.2 456.1L143.4 455.9L143.7 456L143.9 456.2L144.1 456.1L144.4 456.4L144.6 456.3L144.9 456.7L145.1 456.9L145.4 456.5L145.6 456.8L145.9 456.2L146.1 456.2L146.4 456.1L146.6 457.1L146.9 456.5L147.1 456.6L147.3 457.6L147.6 456.6L147.8 456.9L148 456.6L148.3 456.5L148.5 456.5L148.7 456.7L149 456.9L149.2 457.7L149.5 457.8L149.7 458L150 458.3L150.2 458.3L150.4 458.7L150.7 458.7L150.9 458.5L151.2 458.6L151.4 458.4L151.6 458.1L151.9 459L152.1 459.3L152.4 458.8L152.6 458.9L152.8 458.5L153.1 458.5L153.3 459.5L153.6 458.4L153.8 458.7L154 459.4L154.3 458.9L154.5 459.3L154.8 459.1L155 458.9L155.2 457.9L155.5 458.3L155.7 458.4L156 458.5L156.3 458.4L156.5 458.4L156.7 458.3L157 458L157.2 457.9L157.5 456.8L157.7 457.5L157.9 457.7L158.1 457.7L158.4 457L158.7 456.9L158.9 456.8L159.1 456.4L159.4 456.8L159.7 456.3L159.9 456.2L160.2 456.2L160.4 456.2L160.7 456.1L160.9 456L161.2 455.8L161.4 455.9L161.7 455.9L161.9 455.7L162.2 455.2L162.4 455.7L162.7 455.4L162.9 455L163.2 455.4L163.4 455.1L163.6 455L163.9 454.6L164.1 454.5L164.4 454.8L164.6 454.7L164.9 454.8L165.1 455.2L165.4 455.5L165.6 455.6L165.9 455.5L166.1 455.8L166.4 456.2L166.6 456.3L166.8 456.3L167.1 456.7L167.3 456.4L167.6 456.1L167.8 456.3L168.1 456.1L168.3 456.5L168.5 456.2L168.8 456.4L169 456.7L169.2 456.7L169.5 457L169.7 456.6L170 457L170.2 456.9L170.5 457.1L170.7 457L170.9 457.4L171.2 457.4L171.4 457.3L171.7 457.5L171.9 457.5L172.2 457.5L172.4 457.2L172.7 457.6L172.9 457.7L173.2 457.9L173.4 457.2L173.7 457.3L173.9 458.1L174.2 458.1L174.4 458.2L174.7 458.1L174.9 458.1L175.2 457.7L175.4 457.4L175.7 457.5L175.9 457.7L176.2 457.5L176.4 457.5L176.7 457.6L176.9 457.4L177.2 457L177.4 456.4L177.7 456.7L177.9 456.9L178.2 456.4L178.4 456.6L178.6 456.1L178.9 455.4L179.2 455.6L179.4 456L179.7 455.9L179.9 455.2L180.1 454.8L180.4 454.8L180.6 454.3L180.9 454.6L181.1 455.1L181.3 454.5L181.6 454.8L181.8 454.7L182.1 454.6L182.3 454.6L182.6 454.3L182.8 454.3L183.1 454.4L183.3 454.1L183.6 454L183.8 454.1L184.1 454.2L184.3 454L184.6 453.9L184.8 453.6L185 453.4L185.3 453.5L185.5 453.4L185.8 453.3L186 453.5L186.3 452.3L186.5 452.2L186.8 452.3L187 452.7L187.3 452.2L187.5 452.2L187.8 452L188 452.6L188.3 452.9L188.5 452.6L188.7 453.2L189 452.7L189.2 452.2L189.5 452.1L189.7 452.3L190 452.8L190.2 452.6L190.5 452.9L190.7 453.3L191 453.3L191.2 453.3L191.5 453.3L191.7 453.3L191.9 453.4L192.2 453.5L192.4 453L192.7 452.9L193 453.1L193.2 452.3L193.5 452.2L193.8 452.4L194 451.8L194.2 452.2L194.5 452.2L194.7 452.6L195 452.4L195.2 452.1L195.5 451.3L195.7 451.1L196 451.1L196.3 451L196.5 451L196.7 450.8L196.9 450L197.2 449.6L197.5 449.6L197.6 448.8L197.8 448.1L197.9 448.4L198.2 447.5L198.4 447.1L198.7 447.1L199 446.8L199.4 446.4L199.6 446.6L199.8 446.8L200.1 446.9L200.3 446.7L200.6 446.7L200.8 446.1L201.1 445.8L201.3 445.7L201.6 446L201.8 446.2L202.1 446.8L202.3 447.1L202.6 446.7L202.8 446.8L203 446.8L203.3 447.2L203.5 446.9L203.8 447L204 446.5L204.3 446.9L204.5 447.1L204.8 446.2L205 445.5L205.3 446.4L205.5 446.5L205.8 446.6L206 446.4L206.2 446.2L206.5 445.7L206.7 445.9L206.9 446.3L207.2 445.7L207.4 445.7L207.6 445.9L207.9 445.9L208.2 447.2L208.4 447.7L208.7 447.4L208.9 447L209.1 447L209.4 447L209.6 446.8L209.9 447L210.1 447L210.4 447L210.6 447.1L210.9 446.8L211.1 446.6L211.3 446.4L211.6 446.1L211.8 445.9L212 446L212.3 446.8L212.5 445.9L212.8 445.9L213 445.3L213.2 445.7L213.5 445.6L213.7 444.9L214 445.1L214.2 445.1L214.5 445L214.8 445.2L215 444.9L215.2 444.9L215.5 444.6L215.7 444.7L216 444.8L216.2 444.9L216.5 444.4L216.7 444.3L216.9 444.4L217.2 444.4L217.4 444.2L217.7 444.5L217.9 444.5L218.1 444.3L218.4 444L218.6 443.9L218.8 443.5L219 443.5L219.3 443.8L219.5 443.5L219.8 442.2L220 441.9L220.2 441.5L220.5 441.8L220.7 441.9L221 442.1L221.2 441.9L221.5 442.2L221.7 442.1L222 442L222.3 442L222.5 441.7L222.7 441.4L222.9 440.4L223.1 440.5L223.4 440.1L223.7 439.7L224 439.1L224.3 438.3L224.5 438.4L224.8 438.8L225 438.3L225.2 437.6L225.5 437.9L225.8 437.5L226 437.2L226.3 437.4L226.6 436.8L226.7 436.5L227.2 436L227.5 435.4L227.4 433.6L227.6 433.6L227.9 432.9L228 432.3L228 431.4L228.3 430.2L228.5 429L229.2 428.7L229.5 428L229.7 427.4L229.7 426.4L229.8 425.6L230 424.8L230.3 424L230.6 423.9L231 423.1L231.3 422.3L231.5 422L231.8 422.3L232 422.8L232.3 421.7L232.5 420.6L232.7 420.2L233 420.3L233.2 420.3L233.5 420.2L233.7 420.2L234 420.9L234.2 420.3L234.5 420.5L234.7 420.5L235.1 420.7L235.3 421L235.4 421.8L235.7 421.5L235.8 421.6L236.2 422.1L236.5 423.1L236.7 423.8L236.7 424.2L236.9 423.3L237.1 422.4L237.4 422.8L237.6 421.5L237.9 421.9L238 420.8L238.6 420.8L238.6 420L239 420.1L239.2 419.7L239.4 419.3L239.7 418.3L239.9 418.6L240.2 418.7L240.3 417.8L240.6 418.4L240.9 418L241.1 417.5L241.3 417.6L241.5 417.9L241.7 417L242.1 416.7L242.2 415.7L242.6 415.5L243.3 415.4L243.4 414.4L243.5 412.8L243.6 412.8L243.8 411.9L244.1 411.5L244.2 410.7L244.5 409.7L244.5 409.3L245 408L245.7 407.1L245.9 406.7L246.1 405.1L245.9 405.2L245.8 404.4L245.9 404.4L246.3 403.8L246.6 402.7L246.8 401.5L247 401L247.3 399.3L247.2 399.5L247.8 399.1L247.8 398.7L248.3 397.9L248.6 397.1L248.6 397L248.8 396.7L249 397.3L249.3 397.4L249.3 396.9L249.6 395.7L249.9 395.5L250.3 396L250.4 395.7L250.7 395.1L251.1 394.3L251.6 395.1L251.9 396.8L252 396.7L252.5 396.7L252.8 398.1L253 399.3L253.1 399.5L253.3 400.4L253.4 401.8L253.4 401.8L253.1 402.4L253.2 403.4L253.3 404L253.6 403.5L253.8 403.4L254 403.4L253.9 403L254.3 402.1L254.6 401.3L254.8 400.5L255.1 399.2L254.9 397.9L255 398.7L255.3 400L255.4 401.2L255.5 401.6L255.5 402.4L255.6 403.3L255.2 403.4L256.2 405L256.3 404.9L256.5 404.9L256.6 405.5L256.9 405.3L257.2 403.7L257.2 403.4L257.8 402.6L258.3 401.3L258.5 400.8L258.7 400.1L258.8 399.6L258.6 398.1L258.2 397.8L258.2 397L258.5 396.4L258.8 395.1L259.1 394.4L259.4 393.5L259.5 392L259.2 391.5L259.3 390.5L259.3 390.2L259.6 389.6L259.9 389.2L260.4 388L260.8 387.5L261.3 387.4L261.4 386.3L261.4 385.5L261.5 385.9L261.8 384.9L262.1 383.8L262.3 382.8L262.1 382.6L262 381.2L261.7 381.2L262.1 380.8L262 379.7L261.8 378.4L261.8 377.8L262.1 377.4L262.5 377.2L262.9 377L262.8 375.3L263.1 374.1L263.2 371.9L263.4 371.9L263.3 371.6L263.8 372L264.2 371.7L264.5 371.3L264.7 370.9L265 371L265.4 371.1L265.4 370.3L265.6 369.6L266 369.4L266.1 368.8L266.3 368.5L266.5 367.8L266.7 367.3L266.8 366.5L267 365.8L267 364.5L267.3 364.3L267.8 363.5L268.2 363.5L268.3 364.4L268.7 364.1L268.9 363.8L269.2 363.2L269.2 362.5L269.4 361.7L269.6 361.9L269.6 360.9L269.8 361.7L270.2 362.2L270.7 361.3L270.9 360.8L271.2 359.7L271.5 360.1L271.7 359.2L271.9 358.5L272.1 358.8L272.3 358.6L272.3 359.3L272.6 359.4L272.5 360.2L272.3 360.6L272.2 361.7L272.4 363.1L272.8 363.2L273.2 365.5L273.5 365.6L273.8 365.9L273.8 366.7L274 367.2L273.9 368.2L274 368.9L273.9 369.8L274.1 369.9L274.5 370.8L274.5 371.1L274.6 371.1L275.2 372.9L275.3 373.3L275.6 374.2L275.8 375.1L275.8 375.4L276.1 376.2L276.1 376.7L276.6 377L276.8 378.6L277 380.1L277.5 380L277.4 380.4L277.9 380.9L278.1 380.3L278.2 380.2L278.5 380.1L278.5 379.6L278.9 378.7L278.9 377.6L279.3 377.6L279.6 376.8L279.8 376.1L280.2 375.8L280.5 375.3L280.6 374.4L280.9 374.9L281.2 375.7L281.4 373.8L281.5 373L281.9 372.6L282 372L282.3 371.8L282.8 370.1L283.1 370.8L283.3 371L283.4 369.8L283.2 369.4L283.3 369.9L283.3 370.4L283.7 371.5L283.7 372.4L284.1 373.4L283.9 373.4L284 374.3L284 374.8L283.9 375.9L284 376.4L284.1 378L284.4 378.9L284.5 379.5L284.5 379.5L285 380.2L285.1 380.7L285.5 382.3L285.7 382.5L285.9 383.4L286.3 384.4L286.2 385.2L286 386.5L286.3 386.8L286.4 387.4L286.5 388.1L286.6 387.5L286.9 386.7L287.1 386.2L287.3 386.7L287.7 387.2L287.9 388L288 386.7L288.4 386.2L288.4 386.6L288.5 386.9L288.9 387.5L288.9 388.5L289.5 389.6L289.7 391L289.9 391.3L289.9 391.6L290.4 391.7L290.8 392.1L290.7 392.7L290.8 394.1L291.2 394.3L291.2 394.9L291.2 395.1L291.2 395.9L291.3 396.9L291.4 397.9L291.3 399.1L291.9 399.3L291.7 400.6L291.9 401.5L292 401.9L291.8 402.9L292.1 403.9L292.3 404.6L292.7 405.4L292.8 406L293 406.5L293.2 406.6L293.7 407.2L294 408.5L294.2 408.3L294.2 408.4L294.7 408.7L294.9 409.1L295 409.8L295.2 410.6L295.7 411.5L296.1 412.7L296.1 414.2L296.2 415.4L296.2 415.7L296.6 415.5L296.9 416.1L297.2 415.9L297.4 415.5L297.3 414.4L297 413.5L297.1 412.6L297.4 411.7L297.6 411L297.9 410.8L297.7 409.9L297.6 408.9L298 407.6L298 407L298.3 406.4L298.6 406.5L298.8 405.6L299 405.8L299.3 406L299.5 405.1L299.7 404.9L299.9 404.8L300 405.8L300.4 406L300.8 407.1L301.1 408L301.3 407.5L301.3 407.8L301.4 408.2L302 408.7L302 410L302.1 410.4L302.4 411L302.5 411.5L302.5 411.8L302.8 413.3L303.4 413.7L303.6 414L303.3 415.3L303.2 415.7L303.4 415.6L303.4 416.9L303.7 417.9L303.9 418.7L304 419.6L304.5 419.6L305 419.4L305.5 420L305.4 421L305.6 422.3L306.1 422.4L306.1 423.7L306.2 424L306.4 423.8L306.7 423.4L306.9 424L307.1 424L307.4 422.8L307.6 423L307.9 422.9L308.1 422.7L308.3 422.2L308.6 422.3L308.8 422.1L309.1 422.2L309.3 422.2L309.5 422.2L309.8 421.4L310 421.6L310.3 422.2L310.5 422L310.7 422L311 422.2L311.3 422.8L311.6 423.3L312 423.6L312.3 424.3L312.5 424.8L312.7 426.1L313.3 427.1L313.4 427.4L313.5 428.2L313.4 428.9L313.7 429.8L313.8 429.8L314 430L314.3 431.2L314.4 430.3L314.8 430.8L314.9 431L315.1 431.7L315.4 432.7L315.6 433.5L316 433.8L316.4 434.1L316.7 434.1L317.1 434.5L317.1 435.4L317.5 435.9L317.8 437.5L317.9 438.3L317.7 439.3L318.1 440.3L318.6 439.3L318.9 439.2L319 439L319.3 437.6L319.5 437.5L319.6 437L319.6 436.1L319.9 436.4L320.2 436.4L320.4 437.7L320.7 437.2L321 437.7L321.2 438.2L321.2 438.4L321.5 439.4L321.7 439.8L322 440L322.1 440.6L322.5 441.1L322.6 442.6L323.1 441.8L323.2 442.6L323.9 442.9L324 443.4L324 444.4L324.2 444.5L324.3 445.2L324.7 444.9L324.9 444.5L325.3 443.4L325.5 443.1L325.6 443.5L325.8 442.6L325.8 440.9L326 440.1L326.3 439.5L326.7 439.4L327 439.3L327.2 438.7L327.5 438.3L327.7 438.1L327.9 438L328.2 438.6L328.4 438.7L328.6 438.5L328.9 438.7L329.1 439.2L329.3 439.6L329.6 439.8L329.8 439.9L330.1 440.2L330.3 440L330.6 441.7L330.8 441.1L331 440.6L331.3 441.7L331.6 441.4L331.8 441.2L332.1 441.5L332.3 441.7L332.6 441.5L332.8 441.6L333 441.5L333.3 441.4L333.6 440.8L333.8 441.4L333.8 441.2L334.1 440.9L334.4 440.7L334.7 439.6L335 439.7L335.2 439.6L335.4 439.1L335.7 438.9L335.9 438.7L336 438.6L336.4 437.2L336.8 436.5L337 436.6L337 436.5L337.2 436.1L337.6 435.2L337.8 435.7L337.9 434.7L338.3 434.9L338.6 434L338.8 434.1L339 434.1L339.3 434.2L339.5 434.1L339.7 434.3L339.9 434.1L340.2 434.1L340.5 434.7L340.7 435.4L340.9 435.6L341.2 435.5L341.5 435.2L341.6 434.1L341.9 434.5L342.1 432.7L342.4 434L342.5 432.7L342.9 433.2L343.1 432.5L343.3 432.4L343.5 432.6L343.8 431.9L344.1 431.6L344.3 431.2L344.5 431.2L344.7 430.7L344.9 430.5L345 430L345.4 429.2L345.8 429L346.3 428.5L346.3 428.2L346.5 428.6L346.7 428.4L347 428.1L347.2 427.8L347.5 427.7L347.7 427.5L348 427.7L348.2 427L348.4 427.5L348.7 427.4L348.9 427.5L349.1 427.6L349.4 427.4L349.6 428.2L349.9 427.5L350.2 427.3L350.4 427L350.7 426.5L350.9 425.8L351.2 425.9L351.4 425.4L351.7 425.3L351.9 425.1L352.1 424.7L352.4 424.3L352.7 423L352.9 422.6L353.1 422.8L353.4 422.2L353.6 422.1L353.8 422.2L354.1 422.4L354.3 422.1L354.6 422.2L354.9 422L355.1 422L355.4 421.4L355.6 421L355.9 420L356.3 419.5L356.7 419.8L357 419.2L357.3 418.8L357.5 418.4L357.6 417.9L357.8 417.6L357.9 417.3L358.1 417L358.4 416.6L358.6 415.7L358.8 415L358.7 413.9L359.1 414.7L359 413.4L359.3 413.7L359.8 413.5L360 412.7L360.4 412L360.6 411.4L360.9 411.1L361.1 410L361.3 409.7L361.6 410.5L361.8 410L362.1 410.7L362.3 410.6L362.5 410.3L362.6 410.1L363.1 411.2L363 412.5L363.3 412.8L363.6 412.6L363.9 413.3L364.3 413.9L364.1 414.2L364.5 415.1L364.6 415.8L364.7 416.2L364.6 416.8L364.4 418L364.6 419.3L364.7 419.9L364.9 421.3L365.1 421.5L365.4 422.7L365.7 423.2L366 424.6L366.7 425.1L366.9 424.5L367.3 424L367.5 423.4L367.9 423.3L368.3 422.9L368.5 422.3L368.7 422.2L368.8 421.2L368.9 420.6L369.1 419.8L369.3 419.7L369.6 419.3L369.8 419.3L370 418.9L370.3 419.4L370.5 419.9L370.7 420.7L370.9 421.2L371.1 420.9L371.4 420.2L371.5 419.7L371.9 419.2L372.1 419.6L372.5 418.9L372.7 418.5L373 417.3L373.3 417.6L373.5 417.5L373.6 417.9L373.9 417L374.1 417.2L374.4 417L374.7 416.9L375 417.3L375.2 417.2L375.5 417.1L375.6 417L375.9 415.9L376.1 415L376.4 413.7L376.6 413.5L376.7 413.3L376.9 412.7L377.2 412.9L377.5 413.3L377.7 412.9L378 412.9L378.3 412.6L378.5 412.6L378.7 412.4L379 412.9L379.2 413.2L379.5 413.9L379.7 413.8L380 414L380.2 414.1L380.4 413.9L380.7 414L380.9 413.5L381.2 413.9L381.4 413.9L381.7 413.7L381.9 414.1L382.1 413.9L382.4 413.2L382.6 413.2L382.9 412.7L383.1 413.1L383.3 413.5L383.6 413.4L383.8 413.9L384.1 414.2L384.3 414.2L384.6 414.4L384.8 414.8L385.1 415.3L385.3 415L385.5 415.5L385.8 415.2L386 415.1L386.3 415.4L386.6 415.6L386.7 416.2L387 417.3L387.3 417.8L387.4 418.7L387.6 419.5L387.9 419.4L388.3 419.6L388.5 419.4L388.8 419.1L389 419.1L389.3 419.2L389.5 419.7L389.7 418.7L389.9 419.3L390.2 419.2L390.4 418.4L390.6 418.6L390.9 418.4L391.1 417.8L391.3 418L391.6 417.7L391.8 417.8L392.1 417L392.3 417.6L392.5 417.5L392.8 417.1L393 417.4L393.2 417.3L393.5 416.7L393.7 417L394 417.3L394.2 417.2L394.4 417.7L394.7 417.1L394.9 417.2L395.1 417.4L395.4 416.7L395.6 417.2L395.9 416.7L396.1 415.7L396.4 415.7L396.6 415.6L396.9 416L397.1 416L397.4 416L397.5 416.3L397.7 417.5L398.1 418.2L398.4 417.8L398.5 418.7L398.6 419.7L398.7 420L399.1 419.8L399.5 420.5L399.8 421.4L400 421.8L400.2 422.2L400.5 422.5L400.7 422.8L401.1 423.5L401.3 424.2L401.7 424.9L401.7 425.1L402 425.4L402.4 426.2L402.6 426.6L402.9 426.7L403.1 426.5L403.3 426.4L403.5 426L403.7 426.8L404 426.6L404.2 427.6L404.4 428.4L404.7 427.8L404.9 428.1L405.1 427.8L405.4 427.7L405.6 428L405.8 428.4L406 428.5L406.2 428.2L406.5 428.8L406.7 429.1L407 429.4L407.3 430.2L407.6 431.1L407.8 430.8L408.1 430.5L408.3 431.7L408.6 430.4L408.8 430.3L409 430.9L409.2 431.4L409.5 431.7L409.8 431.2L410.2 431.7L410.2 431.4L410.7 431.4L410.6 430.2L410.7 430.5L411 430.4L411.4 429.3L411.7 429L412 428.1L412.1 427.8L412.3 427.2L412.5 427.1L412.7 427.2L413 426.8L413.2 426.8L413.5 426L413.7 426.1L413.9 425.9L414.2 425.4L414.4 425L414.6 425.4L414.9 426L415.1 425.6L415.4 425.7L415.6 425.5L415.8 425.1L416.1 425.7L416.3 426L416.6 426.2L416.8 426.6L417.1 426.4L417.3 427.2L417.6 427.3L417.8 427.4L418.1 427.2L418.3 426.6L418.6 427.1L418.8 427.3L419.1 427.1L419.3 426.4L419.6 426L419.8 426.5L420.1 426.4L420.3 426.6L420.5 426.4L420.8 426L421.3 426.1L421.5 425.4L421.3 424.2L421.7 423.4L422.1 422.6L422.3 423.4L422.7 423.2L422.7 422.7L422.9 422L422.9 420.7L423.3 421.1L423.6 420.2L423.9 419.5L424.1 420.1L424.3 420.3L424.6 420.4L424.8 420.5L425.1 420.2L425.3 419.7L425.6 419.5L425.8 419.6L426.1 418.5L426.3 417.6L426.5 417.8L426.7 418.1L426.9 417.5L427.2 417.7L427.5 418.2L427.7 418.1L427.9 418.6L428.3 419.9L428.4 420.2L428.7 421L428.9 421.7L429.1 421.3L429.4 421.3L429.7 421.4L429.9 421.4L430.1 421.8L430.4 421.8L430.6 421.6L430.9 421.7L431.1 421.1L431.3 421L431.6 421.3L431.8 421.5L432 421.7L432.3 422L432.5 422.2L432.7 422.1L432.9 421.6L433.2 421.6L433.5 421.9L433.7 421.9L434 422L434.2 422.4L434.4 423.1L434.6 422.8L434.8 422.9L435.1 423L435.4 422.5L435.7 423.4L435.9 423.5L436.1 423.4L436.4 423.5L436.6 423.4L436.8 423.8L437.2 424.2L437.4 423.7L437.7 423.5L437.9 423.4L438.2 423.3L438.4 422.8L438.5 421.9L438.8 421.6L438.9 421L439.2 420.9L439.4 420.6L439.7 420.6L439.9 420.5L440.2 420.6L440.4 420.6L440.7 420.3L440.9 419.9L441.2 419.6L441.4 419.4L441.6 419.1L441.9 418.9L442.1 418.8L442.4 418.5L442.6 418.4L442.8 418.9L443.1 418.6L443.3 419.1L443.6 419.3L443.8 419L444.1 419.3L444.3 419L444.6 419.6L444.8 419.6L445.1 419.4L445.3 418.7L445.5 419.8L445.8 419.6L446 418.8L446.3 419L446.5 419.6L446.8 417.6L447 417.7L447.2 418.1L447.5 418.5L447.7 418.6L448 418.5L448.2 418.8L448.5 418.6L448.7 418.3L448.9 418.2L449.2 418.2L449.4 418.7L449.6 418.8L449.9 420L450.1 419.2L450.5 420.3L450.7 419.9L450.8 418.7L451.1 420.1L451.2 420.1L451.5 420L451.7 420.7L452 421.2L452.2 421.6L452.5 421.3L452.8 420.8L453.1 421L453.2 421.2L453.4 421.6L453.6 421.3L453.9 422.2L454.2 422.1L454.5 421.9L454.7 422.2L454.9 422.6L455.1 423.3L455.3 423.4L455.6 423.2L455.8 422.8L456 423.1L456.3 422.7L456.5 423.1L456.7 423.1L456.9 423.4L457.2 423.8L457.5 424.5L457.7 424.8L457.9 424.7L458.1 425.2L458.4 425.3L458.6 425.5L458.9 426.2L459.1 425.3L459.4 424.8L459.6 424.6L459.9 424.7L460.2 425.4L460.5 425.2L460.7 424.9L460.9 424.2L461.1 423.8L461.3 423.9L461.6 423.5L461.8 423.3L462 423.8L462.3 424.3L462.5 424.3L462.8 424.9L463 424.7L463.2 423.7L463.5 424.8L463.7 425.2L464 425.2L464.2 425.2L464.5 425.4L464.7 425.6L465 425.5L465.2 425.6L465.5 425.9L465.7 425.4L465.9 425.4L466.1 425.7L466.3 426.5L466.6 426.8L466.9 426.9L467 427L467.3 426.8L467.5 427.7L467.7 427.6L468 427.9L468.2 428.4L468.4 428.9L468.7 429L468.9 428.9L469.1 428L469.4 428.2L469.6 429.1L469.8 429.3L470.1 429L470.3 429.5L470.6 429.6L470.8 429.5L471 429.5L471.3 429.5L471.6 429.9L471.8 429.6L471.9 430.4L472.1 429.7L472.4 429.5L472.6 430.7L472.8 431.8L473.1 432.3L473.4 432.3L473.6 432L473.8 432.7L474.1 432.2L474.4 432.3L474.6 432.5L474.8 432.5L475.1 432L475.3 432L475.6 431.4L475.9 431L476.1 431.6L476.3 432.3L476.6 432L476.8 432.3L477 431.5L477.3 431.4L477.5 431.2L477.7 431.2L478 430.3L478.2 430.2L478.5 430.1L478.8 430.1L479.1 430.5L479.3 430.3L479.6 430.7L479.8 430.8L480 431.8L480.3 431.7L480.5 431.1L480.7 431.6L481 431.7L481.2 431.9L481.4 432.5L481.6 432.5L481.9 432.7L482.1 432.8L482.5 433.2L482.8 432.8L482.9 433.2L483.2 434L483.5 434.4L483.7 434.6L483.9 434.6L484.1 434.6L484.3 435.2L484.5 435.1L484.7 434.6L485 435.1L485.3 434.5L485.5 435.3L485.8 434.6L486 434.6L486.2 434.4L486.5 434.4L486.7 434L486.9 433.7L487.2 433.6L487.4 433.5L487.6 433.8L487.8 433.6L488.1 433.3L488.3 433.6L488.5 434.4L488.8 433.7L489.1 433.3L489.3 433.2L489.5 432.4L489.8 432.7L490 432.6L490.2 432.5L490.4 432.7L490.7 432L490.9 432.1L491.1 431.8L491.4 431.3L491.6 431.6L491.9 431.8L492.1 431.3L492.3 431.5L492.6 429.8L492.8 430.3L493 430.2L493.3 430.1L493.5 430.1L493.7 430.4L494 431L494.2 430.9L494.5 431L494.7 431.3L495 431.4L495.1 431.8L495.3 431.3L495.6 431.9L495.8 433.6L496 433.3L496.3 433.3L496.6 433.9L496.8 434.3L497.1 434.2L497.2 434L497.5 433.8L497.8 433.6L498 433.5L498.3 433.6L498.5 433.6L498.8 433.3L499.1 432.9L499.3 433.8L499.5 434.1L499.8 433.6L500 433.6L500.2 432.5L500.5 432.4L500.7 433.2L500.9 433L501.2 431.9L501.5 431.7L501.7 431.9L502 431.3L502.2 431.4L502.5 431.4L502.7 431.7L503 431.9L503.2 432.3L503.5 432.6L503.7 432.8L503.9 432.6L504.2 432.2L504.4 432.2L504.7 432.4L504.9 432.5L505.2 432L505.4 432L505.7 431.9L505.9 431.9L506.1 431.8L506.4 431.8L506.6 431.8L506.8 431.9L507.1 432.3L507.3 432.2L507.6 431.6L507.9 431.1L508.1 431.2L508.3 432L508.6 432.2L508.8 431.9L509.1 432.6L509.3 433L509.5 432.8L509.8 433L510 433.5L510.3 433.8L510.5 433.9L510.8 434.1L511 434.5L511.3 434.7L511.5 434.7L511.8 434.9L512 435L512.3 435.2L512.5 435.2L512.8 435.5L513 435.4L513.3 435.3L513.5 436.2L513.8 435.6L514 435.7L514.2 436.5L514.5 436.2L514.7 435.8L515 436.6L515.3 436.3L515.5 435.9L515.7 436.1L516 436.5L516.2 436.3L516.5 437L516.7 437L517 437.4L517.2 436.6L517.5 436.4L517.7 437.2L518 436.8L518.2 436.5L518.5 436.3L518.7 436.3L519 437L519.2 436.4L519.5 436L519.7 435.8L520 435.7L520.2 436.4L520.5 436.7L520.7 436.8L520.9 436.5L521.2 437.2L521.4 437.3L521.7 437L521.9 437.3L522.2 436.9L522.4 436.7L522.7 437L522.9 437L523.2 438.3L523.4 438.2L523.7 438.2L523.9 438.1L524.2 437.3L524.4 436.4L524.7 435.8L524.9 436L525.2 436.2L525.4 436.3L525.7 436.4L525.9 436.2L526.2 435.8L526.4 435.7L526.7 435.7L526.9 435.7L527.1 435.7L527.4 435.3L527.6 435.9L527.8 436.2L528.1 437.3L528.3 437.1L528.5 437L528.8 437.5L529 437.7L529.2 437.9L529.4 437.5L529.7 437.8L529.9 437.9L530.1 437.8L530.4 437.9L530.7 438.7L530.9 439.3L531.1 439.2L531.4 438.7L531.6 439L531.8 438.8L532.1 438.8L532.2 439L532.5 438.8L532.8 438L533.1 437.6L533.4 437.8L533.7 437.4L533.8 437.7L534.1 437.6L534.5 436.7L534.7 437.1L534.9 436.7L535.1 436.2L535.2 434.8L535.4 434.2L535.7 434.7L535.9 434.4L536.2 434.1L536.4 434.3L536.7 433.9L536.9 434.1L537.2 434.1L537.5 433.9L537.7 433L538 432.2L538.2 432.2L538.5 432.5L538.7 432.7L539 432.8L539.2 432.4L539.5 431.9L539.7 431L539.9 430.9L540.1 430.8L540.4 431.2L540.7 430.9L540.9 430.9L541.2 431.1L541.4 431L541.6 431.2L541.9 431.6L542.1 431.2L542.4 430.9L542.6 430.4L542.9 430.7L543.1 430.8L543.3 430.7L543.6 430.1L543.8 431L544.1 431.1L544.3 431.2L544.6 431.5L544.8 431.4L545 431.7L545.3 431.5L545.5 432.1L545.8 431.9L546 431.8L546.2 432.4L546.4 432.4L546.7 432.4L546.9 432.9L547.1 432.7L547.4 432.3L547.6 433.8L547.9 434L548.1 433.5L548.3 433.6L548.6 433.5L548.8 434.1L549 434L549.3 434.1L549.5 433.8L549.8 433.2L550 433.9L550.3 434L550.5 435L550.7 435.4L551 434.9L551.2 434.7L551.5 435.3L551.7 435.2L552 434.6L552.2 434.9L552.5 434.9L552.7 435L552.9 434.7L553.2 435L553.4 434.7L553.7 435.1L553.9 434.2L554.2 433.2L554.4 434.1L554.7 434.6L554.9 435.1L555.1 434.7L555.4 433.8L555.6 433.9L555.9 433.1L556.1 433.4L556.3 433.2L556.6 433.3L556.8 433.3L557 433.2L557.3 434.1L557.5 434.2L557.8 434.6L558.1 434.6L558.3 434.8L558.5 435.1L558.7 436.1L558.9 435.8L559.1 435.6L559.4 436.1L559.6 435.8L559.9 436.2L560.1 436.7L560.4 437L560.6 436.6L560.9 436.6L561.1 436.5L561.3 437.2L561.6 437.2L561.8 437.6L562 437.8L562.3 437.9L562.6 437L562.8 437.6L563 438.6L563.3 438.2L563.6 438.2L563.8 437.9L564 437.9L564.3 437.8L564.5 437.9L564.8 438.2L565 437.9L565.3 437.8L565.5 437.7L565.8 437.1L566 437.4L566.2 437.1L566.5 436.9L566.7 436L567 436.8L567.2 437.1L567.4 436.7L567.7 436.7L567.9 436.5L568.2 436.3L568.4 436.6L568.7 436.5L568.9 436.3L569.1 437L569.4 437L569.6 437.1L569.9 436.1L570.1 435.8L570.4 436L570.6 435.4L570.8 434.9L571.1 434.8L571.3 434.9L571.6 435.4L571.8 435.3L572.1 435.5L572.3 435.4L572.6 435.5L572.8 436L573 436L573.3 435.9L573.5 435.3L573.8 435L574 435.4L574.3 435L574.5 435.4L574.7 435.5L575 434.6L575.2 435.5L575.5 436L575.7 436.1L576 436.2L576.2 436.4L576.4 436.1L576.7 435.6L576.9 436.1L577.2 436.1L577.4 436L577.7 436.6L577.9 436.2L578.2 436.4L578.4 436.6L578.6 437L578.9 436.7L579.1 437.1L579.4 436.8L579.6 437.2L579.9 437.2L580.1 437.1L580.3 436.8L580.6 436.8L580.8 436.6L581.1 436.3L581.3 436.5L581.6 436.1L581.8 436.4L582 436.4L582.3 436.7L582.5 436.2L582.7 436.1L583 436L583.2 436L583.4 435.6L583.7 435.2L583.9 435.1L584.1 435.3L584.4 435.6L584.6 435.8L584.8 435.9L585.1 436.2L585.3 436.4L585.6 435.9L585.8 435.5L586.1 436.2L586.4 436.5L586.6 436.6L586.8 436.1L587.1 436.9L587.4 436.8L587.6 436.6L587.8 436.9L588 437L588.3 436.9L588.5 436.9L588.8 436.8L589 436.2L589.3 435.9L589.5 436.4L589.8 437.2L590 437.1L590.3 438.3L590.5 437.3L590.8 436.7L591 437.2L591.3 437.4L591.5 437.2L591.8 436.8L592 436.8L592.3 436.7L592.5 436.5L592.8 436.4L593 436.3L593.2 436.6L593.5 436.3L593.7 436.8L593.9 436.5L594.2 436.3L594.4 436.7L594.7 437.2L594.9 437.2L595.1 436.6L595.3 436.4L595.6 437L595.8 436.9L596.1 437.3L596.3 437.4L596.6 437.3L596.8 437L597.1 437.4L597.3 437.5L597.6 437.5L597.8 436.5L598 437.2L598.3 435.9L598.5 436.7L598.8 436.6L599 436L599.3 436.6L599.5 436.2L599.8 437L600 437L600.3 436.8L600.5 437L600.8 437L601 436.9L601.3 436.7L601.5 437.1L601.8 436.6L602 436.6L602.2 436.3L602.5 436.1L602.7 437L603 436.7L603.2 436.4L603.5 436.3L603.7 436.9L604 436.9L604.2 437.5L604.5 437.7L604.7 437.4L604.9 437.6L605.2 437.6L605.4 437.8L605.7 437.9L605.9 438L606.1 437.9L606.4 437.8L606.6 437.5L606.9 436.4L607.1 436.7L607.4 437.1L607.6 437.2L607.8 437.3L608.1 437.2L608.3 437.1L608.6 438.2L608.8 437.7L609 437.7L609.3 437.2L609.5 436.7L609.8 437.7L610 437.5L610.2 436.9L610.5 437.3L610.7 437.1L611 437L611.2 437.2L611.5 437L611.7 436.3L611.9 436.1L612.2 435.7L612.4 435.4L612.7 436.3L612.9 436.1L613.2 436.2L613.4 436.4L613.7 436.3L613.9 436.4L614.1 436.6L614.4 436.2L614.6 436.4L614.9 437L615.1 436.8L615.4 436.2L615.6 436.2L615.8 435.3L616 434.7L616.2 435.8L616.5 435.3L616.9 435.2L617.1 434.8L617.3 434.1L617.6 434L617.8 433.8L618.1 433.5L618.3 433.4L618.6 433L618.8 433.5L619.1 433.9L619.3 433.2L619.5 432L619.8 432.2L620 432.4L620.3 431.7L620.5 431.8L620.8 432.5L621 431.9L621.3 432L621.5 432L621.7 432.1L622 431.9L622.2 431.6L622.5 431.2L622.7 431.2L622.9 431.3L623.2 430.8L623.4 431.5L623.7 430.9L623.9 431.3L624.2 430.7L624.4 430.8L624.6 430.8L624.9 431.4L625.1 431L625.4 431.7L625.6 431.6L625.9 431.6L626.1 431.3L626.3 431.5L626.5 431.8L626.8 432.2L627 432.1L627.2 432.6L627.5 432.5L627.8 433.2L628 432.7L628.2 433.8L628.5 433.2L628.7 433L629 432.6L629.2 432.7L629.4 432.8L629.6 432.6L629.8 432.2L630.1 431.8L630.3 432.1L630.5 431.8L630.7 430.9L631 431.1L631.2 430.9L631.5 430.6L631.7 429.8L631.9 429.5L632.2 429.6L632.5 429.5L632.7 429.2L632.7 428.4L633 427.6L633 427L633.7 426.3L633.7 425.7L633.7 425.6L633.8 424.8L633.9 423.9L634.5 423.2L634.1 422.8L634.2 422.1L634.4 421.3L634.8 419.9L635.1 418.8L635.2 418L635.5 418.2L635.5 417.2L635.9 416.9L636.1 416.8L636.2 416.1L636.4 414.8L636.7 414.3L637 414.8L637.4 414.7L637.7 414.5L637.9 414.1L638.2 414L638.4 414.3L638.6 414.6L639 413.8L639.2 413.8L639.5 412.5L639.7 412L639.9 412.1L640.2 412L640.4 411.1L640.7 412.3L640.9 413.2L641.2 411.9L641.4 412.3L641.7 412.6L641.9 412.5L642.2 412.6L642.4 412.4L642.6 412.9L642.9 413.5L643.1 414.5L643.1 415.2L643.4 415.1L643.7 415.3L643.9 416.2L644.3 417L644.5 417L644.7 416.2L645 415.9L645.2 415.6L645.4 415.3L645.5 413.8L645.8 413.8L646.1 413.5L646.3 413.7L646.6 413.6L646.9 414L647 413.5L647.4 412.9L647.6 412.8L647.8 412.2L648 411.5L648.1 410.7L648.4 409.7L648.6 409.2L648.8 408.4L649.1 407.4L649.4 406.5L649.6 405.7L649.8 405.1L650.1 404.5L650.3 403.7L650.6 402.8L650.9 402.1L651.1 401.7L651.3 401L651.4 400.2L651.7 399.3L652 398.5L652.2 397.8L652.5 397L652.6 396.3L652.9 395.7L653.1 395L653.3 394.3L653.6 393.4L653.7 393L654 392.2L654.3 391.3L654.6 390.8L654.9 390.3L655.1 389.6L655.3 390.1L655.6 390.5L655.8 391.1L656.1 391.4L656.3 392.1L656.6 392.6L656.8 392.5L657.1 393.1L657.3 393.3L657.6 393.6L657.7 392.8L657.8 392L658 391.1L658.1 390.5L658.1 390.1L658.2 389.5L658.2 388.6L658.1 387.4L658.3 386.6L658.4 385.9L658.5 385L658.6 384.2L658.7 383L658.9 382.7L658.9 381.6L659 381.1L659.1 380.3L659.2 379.5L659.4 378.8L659.7 378.2L659.9 377.9L660.2 377.3L660.5 377.1L660.7 376.8L660.9 376.4L661.3 376.1L661.4 376.7L661.6 377.6L661.8 378L662.1 378.9L662.3 379.5L662.4 380.1L662.6 381.4L662.8 382.1L662.9 382.9L662.9 383.8L663 384.6L663.1 385.2L663.1 386L663.2 386.8L663.3 387.8L663.5 388.4L663.4 389.6L663.4 390.5L663.5 391.1L663.6 391.7L663.7 392.1L663.7 393.2L663.7 393.8L663.8 394.8L663.9 395.5L663.8 396.3L664 397.2L664 398.1L664.1 398.8L664.2 399.6L664.4 400.5L664.5 401.3L664.6 402.2L664.9 402.4L665.1 403.3L665 404L665.2 404.9L665.4 405.6L665.5 406.5L665.7 405.7L665.9 405L666.1 404.5L666.3 403.5L666.4 402.8L666.6 402.3L666.8 401.6L666.8 400.5L666.9 399.9L667.1 399.2L667.3 398.4L667.5 397.7L667.8 398.4L668.1 398.9L668.4 399.3L668.6 400.2L668.8 400.7L669 401.2L669.1 401.7L669.3 401.3L669.6 400.9L669.8 400.6L670 400.4L670.3 400L670.5 399.7L670.6 400.4L670.7 401L670.8 401.6L670.9 402.5L671 403.5L671.2 404.2L671.3 405.2L671.5 406.1L671.7 406.7L671.8 407.5L671.9 407.8L672 408.7L672 409.6L672 410.5L672.2 411.2L672.3 412L672.5 412.5L672.4 413.6L672.6 414.4L672.7 414.9L672.7 415.6L672.9 416.3L672.8 417.3L673 418L673.1 419L673.3 419.7L673.6 419.6L673.8 419.4L674 419.1L674.3 418.5L674.5 418.4L674.8 418L675 417.5L675.3 417.4L675.5 417L675.8 416.9L676 416.6L676.3 416.4L676.6 416L676.8 415.6L677.1 414.9L677.3 414.5L677.6 414.3L677.8 413.8L678 413.2L678.3 412.7L678.5 412.1L678.7 411.8L678.9 411L679.2 410.4L679.5 410L679.7 409.6L680 409.3L680.3 408.7L680.5 408.4L680.7 407.8L681 407.6L681.2 407.6L681.5 407.5L681.7 407.6L682 407.3L682.3 407L682.5 407L682.7 406.8L683 406.3L683.2 406.2L683.5 406.2L683.7 405.9L684 406.1L684.2 406.1L684.4 406.8L684.7 406.8L685 407L685.2 406.8L685.4 407.1L685.7 407.3L685.9 407.1L686.2 407.2L686.4 406.8L686.7 407L686.9 407.2L687.2 407L687.4 406.8L687.7 406.6L687.9 406.4L688.2 406.2L688.4 407L688.6 407.8L688.9 408.3L689.1 408.6L689.3 409.2L689.6 409.7L689.8 410.3L690 411L690.2 411.9L690.3 412.8L690.6 413.4L690.6 414.1L690.8 415L691 415.7L691 416.1L691.2 417.1L691.4 417.8L691.6 418.6L691.7 419.4L691.9 420L692.2 420.6L692.3 421.6L692.4 422L692.6 422.9L692.9 423.5L693.1 424.1L693.1 424.8L693.4 424.4L693.7 424L693.9 423.6L694.2 423L694.4 423L694.7 422.6L695 422.3L695.2 422.2L695.4 421.5L695.6 421.2L695.9 421.4L696.1 421.3L696.4 421.2L696.6 421.2L696.9 421.3L697.1 421.5L697.4 421.5L697.6 421.6L697.9 421.6L698.1 421.9L698.4 421.6L698.7 421.4L698.9 420.9L699.2 420.5L699.4 420.1L699.6 419.8L699.9 419.3L700.1 419.1L700.4 419L700.6 418.5L700.8 418.2L701.1 417.4L701.3 417.3L701.5 417.4L701.8 417L702 416.8L702.3 417.9L702.5 417.5L702.7 417.7L703 417.6L703.2 417.8L703.4 417.7L703.7 417.9L703.9 417.8L704.2 418L704.4 418.4L704.6 418.3L704.9 418.3L705.1 418.8L705.3 419.2L705.6 418.9L705.8 418.2L706.1 418.9L706.3 420L706.5 419.8L706.8 419.6L707 419.6L707.2 419.4L707.5 419.9L707.7 420.6L707.9 420.4L708.2 420.1L708.4 421.2L708.6 420.1L708.9 421.4L709.1 421.9L709.3 420.8L709.6 421.5L709.8 421.3L710 420.9L710.3 420.8L710.5 421L710.8 420.9L711 421.3L711.3 420.3L711.5 420.8L711.8 420.6L712 420.2L712.3 420.7L712.5 420L712.7 420.8L713 420.9L713.2 420.6L713.5 420.7L713.7 420.4L713.9 420.5L714.2 420.4L714.5 419.9L714.7 419.1L714.9 419.5L715.1 419.7L715.4 419.9L715.6 418.9L715.8 419L716.1 418.5L716.3 418.7L716.5 418.4L716.8 418.1L717 418.3L717.3 418L717.5 418.3L717.8 418.3L718 417.9L718.3 418.2L718.5 417.1L718.7 417.2L719 416.9L719.2 416.9L719.5 417.2L719.7 417.3L720 416.8L720.2 417.1L720.5 417.1L720.7 416.9L720.9 417.1L721.2 417.4L721.4 418L721.6 417.5L721.9 418L722.1 419L722.3 419.1L722.6 418.9L722.8 419.3L723 418.2L723.3 419.2L723.5 418.9L723.8 418.6L724 418.1L724.2 418.1L724.5 418.5L724.7 418.9L724.9 419.1L725.2 419.5L725.4 418.6L725.6 418.5L725.9 418.4L726.1 419L726.4 418.7L726.6 418.5L726.8 419.1L727.1 418.5L727.3 418.6L727.6 418.8L727.8 419.1L728.1 419.3L728.3 419.3L728.5 418.9L728.7 418.5L728.9 418L729.2 417.3L729.4 419.2L729.7 418.6L730 417.4L730.2 417.2L730.4 417.1L730.7 416.8L731 416.5L731.2 416.4L731.5 416.4L731.7 416.6L731.9 416.2L732.2 416.9L732.4 415.9L732.7 416.3L732.9 416L733.2 416.3L733.4 416.3L733.6 415.8L733.8 415.5L734.1 414.8L734.3 414.6L734.5 414.9L734.8 414.4L735 414.5L735.3 414.6L735.5 414.4L735.7 414.3L736 414.2L736.2 414.1L736.5 413.6L736.7 413.9L736.9 413.7L737.2 413.8L737.4 413.9L737.7 414.2L737.9 414.5L738.2 415.1L738.4 415.1L738.6 415.5L738.9 415.8L739.1 415.8L739.4 415.7L739.6 415.7L739.9 415L740.1 415.3L740.4 415.9L740.6 416.7L740.8 415.9L741.1 416.2L741.3 417.5L741.6 417.8L741.8 417.1L742.1 417.4L742.3 417.2L742.6 417.2L742.8 416.8L743.1 417L743.3 416.5L743.6 416.7L743.8 416.2L744 416.4L744.3 416.1L744.6 416.2L744.8 415.9L745 416.2L745.2 415.5L745.5 414.9L745.7 415.1L746 415L746.3 414.4L746.5 414.9L746.8 415L747 414.4L747.3 414.1L747.5 414.5L747.8 414.2L748 413.8L748.2 413.7L748.5 413.2L748.7 412.8L749 412.6L749.2 413.3L749.4 413.6L749.7 414L749.9 413.6L750.2 412.8L750.4 413.1L750.7 411.9L750.9 412.4L751.1 412.3L751.4 411.8L751.6 411.8L751.9 411.9L752.1 412.2L752.3 412.8L752.6 413.1L752.8 413.2L753.1 413L753.3 413.2L753.6 412.8L753.9 413L754.1 413.1L754.3 413.1L754.6 413.4L754.9 412.9L755 414.2L755.3 414.8L755.6 414L755.9 414.7L756.1 415.8L756.4 415.8L756.6 415.7L756.9 415.1L757.1 416.1L757.2 416.5L757.4 416.6L757.6 417.1L757.9 417.2L758.2 417.4L758.4 417.3L758.7 416.8L758.9 417.5L759.2 417.3L759.4 416.8L759.6 416.9L759.9 416.5L760.1 415.6L760.4 416.4L760.6 415.7L760.9 416.5L761.1 415.6L761.3 415.7L761.6 416.3L761.8 416.1L762.1 416.2L762.3 415.9L762.6 416.4L762.8 415.7L763.1 415.6L763.3 415.8L763.5 416.9L763.8 415.9L764 416L764.3 415.8L764.5 416.3L764.8 416.4L765 415.9L765.3 416L765.6 415.4L765.8 415.6L766.1 415.2L766.3 415.6L766.5 414.9L766.8 415L767 414.8L767.3 414.6L767.5 415.2L767.8 415.2L768 415.2L768.3 414.2L768.5 414.2L768.8 414.5L769 415.2L769.2 414.7L769.5 414.1L769.7 414.3L770 414.6L770.2 414.7L770.5 414.3L770.7 414.1L770.9 413.6L771.2 413.9L771.4 414L771.6 414L771.8 414L772.1 414L772.3 414L772.5 414L772.8 413.5L773.1 412.9L773.3 412.5L773.6 413L773.9 412.8L774.2 412.7L774.4 411.9L774.7 411.5L774.9 411.9L775.1 411.5L775.3 410.8L775.6 410.7L775.8 410.9L776 410.9L776.3 410.9L776.5 411L776.8 410.7L777 410.9L777.3 411L777.5 410.4L777.7 411.4L778 411.5L778.2 410.8L778.5 411.1L778.7 411.1L779 411.1L779.2 410.9L779.5 410.5L779.7 410.4L779.9 410.5L780.2 410.2L780.4 410.5L780.7 410L780.9 410L781.2 410.2L781.4 409.4L781.7 409.8L781.9 409.9L782.2 410.1L782.4 409.4L782.7 409L782.9 409.5L783.2 409.3L783.4 409.8L783.7 409.2L783.9 409.4L784.2 409.7L784.5 409.2L784.7 409.3L785 409.3L785.2 410.2L785.4 410.8L785.6 411.2L785.8 410.7L786.1 411.5L786.3 412.6L786.6 412.5L786.8 411.5L787.1 411L787.3 412L787.6 411.7L787.9 412L788.1 412.6L788.3 412.6L788.6 412.7L788.8 412.3L789 411.9L789.3 411.5L789.6 411.8L789.8 412.1L790 411.9L790.2 411.2L790.4 410.3L790.7 410.5L790.9 410.5L791.1 410.6L791.4 411L791.6 411.2L791.8 411.1L792.1 410.7L792.3 410.7L792.7 411L793 410.7L793.2 411.4L793.4 411.4L793.7 411.8L793.8 411.6L794.1 411L794.2 410.1L794.5 409.8L794.7 409.3L794.8 409.8L795.2 410.1L795.4 411L795.8 412L795.9 411.5L796.5 411.9L796.2 412.7L796.7 414.1L797.3 414.3L797.5 414.8L797.7 415L797.6 415.2L797.8 414.9L798 414.6L798.3 415.4L798.6 414.7L798.8 414.5L799.2 414.5L799.5 414.1L799.7 413.3L799.9 413.5L800.2 413.1L800.4 413.5L800.7 413.7L800.9 413.1L801.1 412.8L801.4 413.4L801.6 413.7L801.9 414.1L802.1 414.2L802.4 415L802.6 414L802.8 414.3L803.1 414.6L803.3 415L803.5 415.1L803.8 414.8L804.1 415.5L804.3 415.7L804.5 415.4L804.8 415.2L805 415.2L805.2 416.6L805.5 416.9L805.7 416.6L805.9 417.3L806.2 417L806.4 417.3L806.6 416.4L806.9 416.5L807.1 416.4L807.3 416.7L807.6 416.3L807.8 416.3L808.1 416.5L808.3 416L808.6 416.1L808.8 416.2L809.1 416.2L809.3 415.7L809.5 414.9L809.8 415.9L810 416.2L810.2 416.6L810.5 416.4L810.7 416.4L811 416.1L811.3 415.7L811.5 416.4L811.8 416.2L812.1 416.6L812.2 417.1L812.4 417L812.6 417.3L812.8 417L813.2 417.8L813.5 418.6L813.7 418.7L814 418.9L814.3 418.8L814.5 419.5L814.8 420.1L814.9 420.8L815.1 421L815.4 421.4L815.4 421.2L815.8 422.1L816 422.5L816.2 422.1L816.6 422.9L816.8 423.2L817.1 423.4L817.3 423.1L817.5 423.5L817.8 423.2L818 423.2L818.2 422.8L818.5 423.5L818.7 423.8L818.9 424L819.2 423.9L819.4 424L819.7 423.5L819.9 422.4L820.1 422.2L820.4 422.5L820.6 422.8L820.9 422.3L821.1 422.3L821.3 422.8L821.6 423L821.8 423.3L822.1 424L822.3 424.4L822.5 424.7L822.7 423.4L822.9 423.6L823.1 423.7L823.4 423.4L823.7 424.2L823.9 424.6L824.2 424.2L824.4 424.1L824.6 424.3L824.9 424.1L825.1 423.8L825.4 424.3L825.6 424.3L825.9 424.5L826.1 423.8L826.3 424.4L826.6 424.1L826.8 423.5L827.1 423.7L827.3 423.3L827.6 423.4L827.8 423.8L828 423.9L828.3 424L828.6 424.1L828.9 424.9L829 425.5L829.4 424.6L829.6 425.9L829.9 425.3L830.1 425.1L830.4 426.2L830.5 425.6L830.8 426.5L831 427.4L831.2 428.3L831.3 428.8L831.6 429.2L831.9 428.8L832.1 429.2L832.4 429L832.7 429L832.9 429.3L833.1 428.6L833.4 428.7L833.6 428.4L833.9 428.5L834.1 427.8L834.3 427.9L834.6 428.3L834.8 427.6L835 427L835.2 426.6L835.5 426.3L835.7 426.1L836 425.9L836.2 425.8L836.5 426L836.7 426.1L837 425.7L837.2 426.8L837.4 426.2L837.7 427L837.9 426.4L838.2 427.1L838.4 426.5L838.7 427.4L838.9 427.8L839.1 427.8L839.4 427.4L839.6 427.6L839.8 427.1L840.1 427.5L840.4 427.4L840.7 427.6L841 427.9L841.2 428L841.4 428.8L841.6 428.1L841.8 428.5L842.1 429L842.3 429.5L842.6 428.9L842.8 429L843.1 428.6L843.3 429.2L843.5 429.6L843.8 429L844.1 429L844.3 428.9L844.6 428.3L844.8 428.9L845.1 428.3L845.3 428.6L845.6 428.3L845.8 428.1L846.1 427.6L846.3 427.4L846.5 427.3L846.8 427.4L847 426.9L847.2 426.7L847.5 426.5L847.6 426.3L847.8 425.7L848 424.8L848.3 424.7L848.6 424.3L848.9 424.8L849.1 424L849.4 424.3L849.6 424.3L849.9 424L850.2 423.2L850.4 421.9L851 422.6L851.4 421.6L851.4 420.6L851.2 420.3L851.5 419.1L851.5 418.2L851.7 418.1L852 418L852.3 417L852.4 416L852.7 416.3L852.9 415.8L853.2 416L853.4 416.1L853.7 415.6L854 416.2L854.2 415.4L854.4 414.6L854.6 414.1L854.8 413.8L855 413.8L855.4 414.6L855.7 414.2L855.9 414.1L856.2 414L856.4 414L856.7 413.3L857 413.6L857.2 413.9L857.3 414.7L857.6 415.3L857.9 415.1L857.9 415.4L858.1 416.5L858.6 417.7L858.8 417.6L859.1 418.4L859.2 419.3L859.3 419.8L859.7 420.4L860 420.8L860.2 420.7L860.5 419.7L860.7 420.3L861 420.5L861.2 421.4L861.5 420.8L861.7 420.7L861.9 420.2L862.2 421.1L862.4 421.1L862.7 421.6L862.9 421.6L863.2 420.9L863.4 421.6L863.6 421.8L863.9 421.4L864.1 421.2L864.4 421.4L864.6 421.2L864.9 421.1L865.1 420.5L865.3 421.1L865.5 421.3L865.8 421.8L866 421.1L866.2 421L866.5 420.5L866.7 420.7L867 420.3L867.2 419.9L867.4 419.9L867.7 419.6L867.9 419.6L868.1 419.3L868.4 419.1L868.6 420.2L868.8 420.1L869.1 419.9L869.3 419.8L869.5 419.9L869.8 419.5L870 420L870.2 419.8L870.4 420.2L870.7 420.9L870.8 421.5L871.2 421.5L871.6 420.9L871.7 421.8L871.9 421.7L872.1 422.1L872.4 423.1L872.5 423.1L872.9 423.2L873 423.4L873.3 423.5L873.5 422.7L873.8 422.7L874 422L874.1 421.5L874.4 421.4L874.7 422L875 421.8L875.3 421.3L875.5 421L875.8 421.1L876 420.5L876.3 420.1L876.5 419.8L876.7 419.8L877 419.7L877.2 420L877.4 419L877.7 419.2L877.9 420.6L878.2 419.1L878.4 419.6L878.6 418.5L878.8 418.8L879.1 418.8L879.4 418.5L879.6 418.8L879.8 418.9L880.1 418.4L880.3 418.6L880.6 419.7L880.8 419.5L881.1 419.5L881.3 418.5L881.5 419.5L881.8 418.5L882 418.4L882.3 418.7L882.5 418.5L882.7 419L883 418.8L883.2 418.9L883.5 419.3L883.7 419.3L884 419.3L884.2 419L884.5 419.3L884.7 418.9L884.9 418.1L885.2 417.9L885.4 417.7L885.7 418.9L885.9 419.2L886.2 418.7L886.4 419.4L886.6 418.8L886.9 418.5L887.1 418.9L887.4 419.2L887.6 419.1L887.9 418.7L888.1 418.5L888.3 419.4L888.6 419.7L888.8 419.4L889.1 419.3L889.4 420.4L889.6 420.3L889.9 420.5L890.1 420.8L890.3 420.3L890.4 419.9L890.7 419.7L891.1 419.7L891.2 419.4L891.5 418.5L891.7 418.6L892 417.9L892.2 417.8L892.6 417.8L892.8 417.8L893 417.1L893.3 417.4L893.5 416.2L893.7 416.4L894 415.7L894.2 415.1L894.4 415.1L894.7 415.1L894.9 415.8L895.2 416.3L895.4 416.3L895.7 416.4L895.8 416.6L895.8 417.3L895.8 418.2L896.4 418.5L896.5 418.6L896.6 419.3L896.5 421.4L897 421.6L897.2 421.8L897.4 422.4L897.8 423.2L898 424L898 423.2L898.3 423L898.6 422.7L898.9 422.6L899.5 421.7L899.5 420.6L899.9 420.3L899.9 420.3L900 419.3L900.4 418.9L900.7 419.3L900.9 419.6L901.2 419.5L901.3 419.8L901.5 420.3L901.8 420.2L902.1 420.9L902.3 421.3L902.5 421.6L902.8 422.1L903.1 422.9L903.2 422.9L903.4 423.3L903.6 424.9L904.1 425L904.2 424.6L904.5 425.4L904.7 425.3L905 425.6L905.2 425.7L905.5 425.4L905.7 425.4L905.9 424.5L906.3 425L906.4 424.6L906.7 424.6L906.9 424.6L907 424.5L907.3 423.8L907.6 423.7L907.8 423.8L908.1 423.3L908.3 422.9L908.6 422.8L908.8 422.7L909 422.3L909.3 422.2L909.5 422.6L909.8 421.7L910 421.4L910.3 422.2L910.5 421.6L910.7 421L911 421.3L911.2 421L911.5 420.5L911.7 420.9L912 421.2L912.2 421.5L912.5 421.6L912.7 421L912.9 420.6L913.1 420.8L913.3 419.9L913.6 419.3L913.9 419.2L914.1 418.8L914.3 418.7L914.5 418.7L914.8 418.9L915 418.9L915.3 419.1L915.5 419.6L915.8 419.8L916 419.4L916.2 419.4L916.5 418.7L916.7 418.8L917 418.6L917.2 418.3L917.4 418.3L917.6 418.1L917.9 418.6L918.1 418.8L918.4 418.5L918.6 418.4L918.8 418.2L919.2 418.2L919.5 417.9L919.8 417.4L919.5 416.5L919.8 415.7L919.9 415.8L919.8 414.7L919.7 412.6L920.4 412.6L920.3 412L919.9 410.4L919.9 409.7L920.2 409.6L920.4 409.8L920.6 410.1L920.9 409.8L921.2 410.2L921.4 410.9L921.7 410.3L921.9 410.4L922.1 410.8L922.4 410.9L922.6 411L922.9 411.1L923.1 410.9L923.4 410.8L923.6 410.6L923.9 409.4L924.1 409.7L924.4 409.5L924.6 410L924.8 410L925 409.9L925.3 411L925.6 410.3L925.9 410.9L926.3 412L926.5 413L926.9 412.7L927.1 413.1L927.2 412.8L927.3 413.3L927.6 413.3L927.8 413.4L928.1 413.1L928.3 412.8L928.5 412.5L928.8 412L929 412.7L929.2 412.5L929.5 412.6L929.7 412.7L929.9 412.9L930.2 412.9L930.4 412.2L930.7 412.4L930.9 412.4L931.1 412L931.4 412.1L931.6 412.5L931.8 412.5L932.1 413.5L932.3 413.6L932.5 413.5L932.8 413L933 413.1L933.3 412L933.5 411.9L933.7 411.4L934 411.2L934.2 410.8L934.5 411.9L934.7 411.9L934.9 412.6L935.2 412.9L935.6 413.4L935.8 412.9L936 413.7L936.2 413.6L936.4 413.7L936.7 414.2L936.9 414.1L937.2 413.2L937.5 412.3L937.7 411.6L937.8 412.2L938 411.7L938.3 411.2L938.5 410.8L938.8 410.7L939 411.1L939.3 410.7L939.5 410.8L939.8 410.4L940 410.7L940.3 411L940.5 410.9L940.7 410.7L941 410.2L941.2 410.7L941.5 410.5L941.7 410.5L941.9 409.7L942.2 409.6L942.4 409.5L942.7 409.2L942.9 409.6L943.2 409.3L943.4 409.6L943.7 409.6L943.8 409.6L944 409.2L944.1 409.4L944.3 408.3L944.5 407.7L945 406.5L945.4 407L945.7 406.3L945.8 406L946.1 405.2L946.4 405.3L946.6 405.7L946.9 405.7L947.1 405.7L947.3 404.6L947.6 404.3L947.8 404.3L948 404.3L948.3 404.4L948.5 404.9L948.7 404.8L949 405.3L949.2 405.9L949.5 406.2L949.7 406.5L949.9 405.7L950.1 405.4L950.3 405.6L950.5 405.5L950.8 405.2L951 405.4L951.5 405.2L951.8 405.3L952.1 405.9L952.4 405.9L952.8 406.6L952.8 407L952.9 407.1L953 408.2L953.3 408.9L953.4 409.2L953.8 410.2L954.1 410.4L954.3 409.4L954.6 409.8L954.8 409.5L955.1 410.2L955.3 410.1L955.6 409.8L955.8 410.4L956.1 410.5L956.3 411.2L956.6 410.9L956.8 411L957.1 411L957.3 411.2L957.6 409.7L957.8 409.5L958.1 409.5L958.3 410.4L958.5 410.6L958.8 411.1L959 411.1L959.3 410.5L959.5 410.2L959.7 410.7L960 410.2L960.2 410L960.4 409.6L960.7 409.7L960.9 409L961.2 409L961.4 408L961.6 407.7L961.8 409.1L962.1 408.1L962.3 407L962.5 406.9L962.8 407.2L963 407.1L963.3 407.3L963.5 407.4L963.8 407.1L964 407.2L964.2 407.1L964.5 407.7L964.7 406.7L964.9 407.1L965.2 406.9L965.4 406.8L965.7 406L965.9 406L966.1 406L966.4 406L966.6 406.7L966.8 406.7L967.1 406.4L967.3 406.5L967.6 406.5L967.8 406L968.1 406.2L968.3 405.7L968.5 406.2L968.8 406.7L969 406.1L969.3 406.3L969.5 407L969.8 406.4L970 406.2L970.2 405.8L970.5 406.6L970.7 406.4L971 406.7L971.1 407.2L971.4 407.4L971.6 407.7L971.9 408.5L972.1 409.7L972.2 408.9L972.5 410.1L972.8 410.9L973.1 411.1L973.4 410.8L973.8 410.5L974 411.1L974.2 411.4L974.4 411.9L974.5 410.7L974.6 409.8L974.8 409.1L975 409.7L975.2 409.2L975.5 407.9L975.7 408.8L976 407.9L976.3 407.8L976.7 407.3L977 407.2L977.2 407L977.4 406.9L977.6 406.3L977.9 405.6L978.2 405.5L978.4 404.8L978.6 404.9L978.9 405L979.2 405.1L979.4 405.1L979.6 405.1L979.8 404.9L980.1 405.2L980.3 405.3L980.6 405.2L980.8 405.6L981.1 404.5L981.3 404.8L981.6 404.2L981.8 404.8L982.1 405.3L982.3 406.2L982.6 406.4L982.8 406.5L983 406.6L983.3 406.6L983.5 406.4L983.7 407.1L984 407.6L984.2 406.5L984.4 406.8L984.7 406.5L984.9 406.9L985.2 406.5L985.4 406.9L985.6 407L985.9 407.4L986.1 407.4L986.3 407.6L986.6 408L986.9 407.9L987.1 409.2L987.3 409.6L987.6 408.3L987.8 409.4L988.1 409.5L988.3 409.7L988.6 409.6L988.9 409.7L989 409.2L989.4 409.4L989.5 409L989.7 408.6L989.9 408.1L990.1 407.9L990.4 407.3L990.7 406.5L991 407.2L991.2 406.1L991.4 405.9L991.7 405.8L991.8 405.4L992.1 404.8L992.3 405.5L992.6 405.6L992.9 405.4L993.1 405.8L993.4 405.3L993.5 405L993.8 405L994 405.3L994.2 405.6L994.4 405.7L994.6 406.6L994.9 406.1L995.2 406.7L995.4 407.1L995.6 407.3L995.9 406.8L996.1 406.6L996.4 406.9L996.6 406.7L996.9 406.5L997.1 406.9L997.4 407.3L997.6 407L997.8 407.5L998.1 408L998.4 408.1L998.6 407.8L998.9 407.9"/>
</g>
<polygon fill="#4d4d4d" points="82.0,440.3 918.2,49.7 911.3,43.7 947.1,46.6 924.8,74.7 926.5,66.2 82.6,441.7"/>
<polygon fill="#ff2314" points="911,324.2 894.2,296.5 891.4,300.9 893.5,283.9 906.9,293.5 902.6,293.7 912,323.6"/>
<text x="566.6" y="62" font-family="'Liberation Sans', 'Noto Sans CJK SC', sans-serif" font-size="39.2" fill="#4d4d4d" stroke="#4d4d4d" stroke-width="0.2" textLength="306" lengthAdjust="spacing">想象中的基金投资</text>
<text x="674.6" y="374.4" font-family="'Liberation Sans', 'Noto Sans CJK SC', sans-serif" font-size="39.2" fill="#ff2314" stroke="#ff2314" stroke-width="0.3" textLength="305" lengthAdjust="spacing">实际上的基金投资</text>
<g stroke-width="4.2" stroke-linecap="round"><path stroke="#ff0000" d="M344.4 612.55H377.6"/><path stroke="#002060" d="M580 612.55H612.6"/></g>
<g font-family="'Liberation Sans', 'Noto Sans CJK SC', sans-serif" font-size="19.1" font-weight="500" fill="#111" stroke="#111" stroke-width="0.45">
<text x="381.2" y="618.7">偏股混合型基金指数</text>
<text x="616.8" y="618.7">上证指数</text>
</g>
</svg>
</body>
</html>
